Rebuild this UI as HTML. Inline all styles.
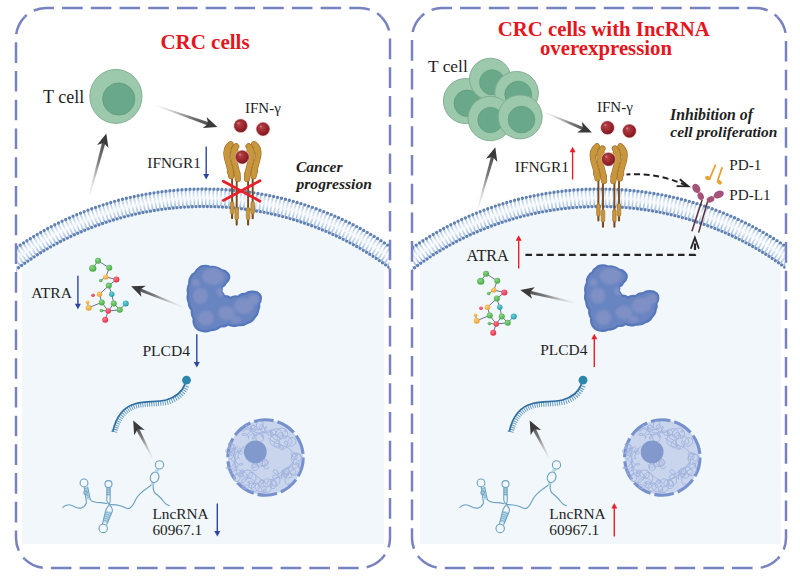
<!DOCTYPE html><html><head><meta charset="utf-8"><style>html,body{margin:0;padding:0;background:#fff;}svg{display:block;}text{font-family:"Liberation Serif",serif;}</style></head><body>
<svg width="800" height="578" viewBox="0 0 800 578">
<defs>
<radialGradient id="gBall" cx="0.38" cy="0.35" r="0.7"><stop offset="0" stop-color="#b8454b"/><stop offset="0.6" stop-color="#9a252c"/><stop offset="1" stop-color="#7c161c"/></radialGradient>
<radialGradient id="gAg" cx="0.4" cy="0.35" r="0.7"><stop offset="0" stop-color="#8fd68a"/><stop offset="1" stop-color="#3fa53c"/></radialGradient>
<radialGradient id="gAo" cx="0.4" cy="0.35" r="0.7"><stop offset="0" stop-color="#ffd27a"/><stop offset="1" stop-color="#e89a2a"/></radialGradient>
<radialGradient id="gAr" cx="0.4" cy="0.35" r="0.7"><stop offset="0" stop-color="#ff7a8a"/><stop offset="1" stop-color="#e0263e"/></radialGradient>
<radialGradient id="gAt" cx="0.4" cy="0.35" r="0.7"><stop offset="0" stop-color="#6fd0d8"/><stop offset="1" stop-color="#1f9aa6"/></radialGradient>
<clipPath id="cL"><rect x="16.5" y="0" width="373" height="560"/></clipPath>
<clipPath id="cR"><rect x="412.5" y="0" width="373" height="560"/></clipPath>
<clipPath id="fL"><rect x="22" y="0" width="362" height="544"/></clipPath>
<clipPath id="fR"><rect x="420" y="0" width="361" height="544"/></clipPath>
<filter id="blur1" x="-50%" y="-50%" width="200%" height="200%"><feGaussianBlur stdDeviation="1.0"/></filter>
</defs>
<rect width="800" height="578" fill="#fff"/>
<circle cx="204" cy="518" r="311.5" fill="#f1f7fb" clip-path="url(#fL)"/>
<g clip-path="url(#cL)" fill="none">
<radialGradient id="gMem204" gradientUnits="userSpaceOnUse" cx="204" cy="518" r="329"><stop offset="0.95" stop-color="#9ab8de"/><stop offset="0.97" stop-color="#dde9f6"/><stop offset="0.98" stop-color="#dde9f6"/><stop offset="1" stop-color="#9ab8de"/></radialGradient>
<circle cx="204" cy="518" r="324.4" stroke="url(#gMem204)" stroke-width="7.6" stroke-dasharray="1.78 2.18"/>
<circle cx="204" cy="518" r="316.1" stroke="url(#gMem204)" stroke-width="7.6" stroke-dasharray="1.74 2.12"/>
<circle cx="204" cy="518" r="320.25" stroke="#f3f7fc" stroke-width="1.2"/>
<circle cx="204" cy="518" r="329" stroke="#6181b1" stroke-width="3.35" stroke-linecap="round" stroke-dasharray="0 4.02"/>
<circle cx="204" cy="518" r="311.5" stroke="#6181b1" stroke-width="3.35" stroke-linecap="round" stroke-dasharray="0 3.81"/>
</g>
<circle cx="600" cy="518" r="311.5" fill="#f1f7fb" clip-path="url(#fR)"/>
<g clip-path="url(#cR)" fill="none">
<radialGradient id="gMem600" gradientUnits="userSpaceOnUse" cx="600" cy="518" r="329"><stop offset="0.95" stop-color="#9ab8de"/><stop offset="0.97" stop-color="#dde9f6"/><stop offset="0.98" stop-color="#dde9f6"/><stop offset="1" stop-color="#9ab8de"/></radialGradient>
<circle cx="600" cy="518" r="324.4" stroke="url(#gMem600)" stroke-width="7.6" stroke-dasharray="1.78 2.18"/>
<circle cx="600" cy="518" r="316.1" stroke="url(#gMem600)" stroke-width="7.6" stroke-dasharray="1.74 2.12"/>
<circle cx="600" cy="518" r="320.25" stroke="#f3f7fc" stroke-width="1.2"/>
<circle cx="600" cy="518" r="329" stroke="#6181b1" stroke-width="3.35" stroke-linecap="round" stroke-dasharray="0 4.02"/>
<circle cx="600" cy="518" r="311.5" stroke="#6181b1" stroke-width="3.35" stroke-linecap="round" stroke-dasharray="0 3.81"/>
</g>
<path d="M24.79,16.79 A30,30 0 0 1 46,8 L360,8 A30,30 0 0 1 381.21,16.79" fill="none" stroke="#7882bf" stroke-width="2.5" stroke-dasharray="20.6 8.12" stroke-dashoffset="-39.56"/>
<path d="M381.21,16.79 A30,30 0 0 1 390,38 L390,538 A30,30 0 0 1 381.21,559.21" fill="none" stroke="#7882bf" stroke-width="2.5" stroke-dasharray="20.6 8.12" stroke-dashoffset="-24.06"/>
<path d="M381.21,559.21 A30,30 0 0 1 360,568 L46,568 A30,30 0 0 1 24.79,559.21" fill="none" stroke="#7882bf" stroke-width="2.5" stroke-dasharray="20.6 8.12" stroke-dashoffset="-24.81"/>
<path d="M24.79,559.21 A30,30 0 0 1 16,538 L16,38 A30,30 0 0 1 24.79,16.79" fill="none" stroke="#7882bf" stroke-width="2.5" stroke-dasharray="20.6 8.12" stroke-dashoffset="-39.06"/>
<path d="M420.79,16.79 A30,30 0 0 1 442,8 L756,8 A30,30 0 0 1 777.21,16.79" fill="none" stroke="#7882bf" stroke-width="2.5" stroke-dasharray="20.6 8.12" stroke-dashoffset="-41.56"/>
<path d="M777.21,16.79 A30,30 0 0 1 786,38 L786,538 A30,30 0 0 1 777.21,559.21" fill="none" stroke="#7882bf" stroke-width="2.5" stroke-dasharray="20.6 8.12" stroke-dashoffset="-26.46"/>
<path d="M777.21,559.21 A30,30 0 0 1 756,568 L442,568 A30,30 0 0 1 420.79,559.21" fill="none" stroke="#7882bf" stroke-width="2.5" stroke-dasharray="20.6 8.12" stroke-dashoffset="-26.86"/>
<path d="M420.79,559.21 A30,30 0 0 1 412,538 L412,38 A30,30 0 0 1 420.79,16.79" fill="none" stroke="#7882bf" stroke-width="2.5" stroke-dasharray="20.6 8.12" stroke-dashoffset="-12.56"/>
<text x="205" y="48.9" font-size="21" font-weight="bold" font-style="normal" fill="#e4161e" text-anchor="middle">CRC cells</text>
<text x="43" y="102.5" font-size="18" font-weight="normal" font-style="normal" fill="#1e1e1e" text-anchor="start">T cell</text>
<ellipse cx="115.9" cy="96.4" rx="26.1" ry="27" fill="#9cc8ac" stroke="#7daa8e" stroke-width="0.9"/>
<circle cx="118.75" cy="99" r="16.1" fill="#6aa88a" stroke="#5f9d7f" stroke-width="0.8"/>
<linearGradient id="ga1" gradientUnits="userSpaceOnUse" x1="89.4" y1="195.5" x2="106.3" y2="133.4"><stop offset="0" stop-color="#c8c8c8" stop-opacity="0.15"/><stop offset="0.55" stop-color="#7a7a7a"/><stop offset="1" stop-color="#3c3c3c"/></linearGradient>
<polygon fill="url(#ga1)" points="90.03,195.67 105.81,141.66 102.53,140.77 88.77,195.33"/>
<polygon fill="#3a3a3a" points="106.3,133.4 108.45,147.98 103.75,142.78 97.06,144.88"/>
<linearGradient id="ga2" gradientUnits="userSpaceOnUse" x1="156.1" y1="105.5" x2="217.4" y2="127"><stop offset="0" stop-color="#c8c8c8" stop-opacity="0.15"/><stop offset="0.55" stop-color="#7a7a7a"/><stop offset="1" stop-color="#3c3c3c"/></linearGradient>
<polygon fill="url(#ga2)" points="155.88,106.11 209.19,125.92 210.32,122.71 156.32,104.89"/>
<polygon fill="#3a3a3a" points="217.4,127 202.71,128.1 208.23,123.78 206.61,116.96"/>
<text x="245" y="112.6" font-size="15" font-weight="normal" font-style="normal" fill="#1e1e1e" text-anchor="start">IFN-γ</text>
<circle cx="240.7" cy="125.8" r="7.5" fill="#e9c4c6" opacity="0.5"/>
<circle cx="240.7" cy="125.8" r="6.3" fill="url(#gBall)" stroke="#7a1a20" stroke-width="0.6"/>
<circle cx="238.5" cy="123.2" r="1.1" fill="#d98a8e" opacity="0.8"/>
<circle cx="263" cy="129.1" r="7.5" fill="#e9c4c6" opacity="0.5"/>
<circle cx="263" cy="129.1" r="6.3" fill="url(#gBall)" stroke="#7a1a20" stroke-width="0.6"/>
<circle cx="260.8" cy="126.5" r="1.1" fill="#d98a8e" opacity="0.8"/>
<g transform="translate(0,0)">
<g>
<line x1="232.1" y1="174" x2="232.1" y2="214" stroke="#7a4a1e" stroke-width="1.9"/>
<line x1="236.7" y1="176" x2="236.7" y2="220" stroke="#7a4a1e" stroke-width="1.9"/>
<line x1="232.1" y1="212" x2="232.1" y2="218.2" stroke="#7a4a1e" stroke-width="2.1" stroke-linecap="round"/>
<line x1="236.7" y1="218" x2="236.7" y2="224.6" stroke="#7a4a1e" stroke-width="2.1" stroke-linecap="round"/>
<rect x="230.3" y="201.4" width="3.6" height="12.8" rx="1.8" fill="#c8953a" stroke="#9b6c28" stroke-width="0.6"/>
<rect x="234.9" y="207.3" width="3.6" height="12.6" rx="1.8" fill="#c8953a" stroke="#9b6c28" stroke-width="0.6"/>
<path d="M230.6,144.2 C226.8,147.2 225.8,152 226.8,157 C228,163 230.8,168.5 231.2,176.2" fill="none" stroke="#9b6c28" stroke-width="6.2" stroke-linecap="round"/>
<circle cx="228.3" cy="149.8" r="4" fill="#9b6c28"/>
<circle cx="230.3" cy="171.5" r="3.5" fill="#9b6c28"/>
<path d="M230.6,144.2 C226.8,147.2 225.8,152 226.8,157 C228,163 230.8,168.5 231.2,176.2" fill="none" stroke="#c8963c" stroke-width="5" stroke-linecap="round"/>
<circle cx="228.3" cy="149.8" r="3.4" fill="#c8963c"/>
<circle cx="230.3" cy="171.5" r="2.9" fill="#c8963c"/>
<path d="M236.2,146.4 C233.4,149.4 232.8,154 233.5,158.5 C234.7,164.5 237.4,171 237.8,178.8" fill="none" stroke="#9b6c28" stroke-width="6.2" stroke-linecap="round"/>
<circle cx="234.6" cy="151.2" r="3.8" fill="#9b6c28"/>
<circle cx="237.2" cy="174" r="3.4" fill="#9b6c28"/>
<path d="M236.2,146.4 C233.4,149.4 232.8,154 233.5,158.5 C234.7,164.5 237.4,171 237.8,178.8" fill="none" stroke="#c8963c" stroke-width="5" stroke-linecap="round"/>
<circle cx="234.6" cy="151.2" r="3.2" fill="#c8963c"/>
<circle cx="237.2" cy="174" r="2.8" fill="#c8963c"/>
</g>
<g transform="translate(484.8,0) scale(-1,1)">
<line x1="232.1" y1="174" x2="232.1" y2="214" stroke="#7a4a1e" stroke-width="1.9"/>
<line x1="236.7" y1="176" x2="236.7" y2="220" stroke="#7a4a1e" stroke-width="1.9"/>
<line x1="232.1" y1="212" x2="232.1" y2="218.2" stroke="#7a4a1e" stroke-width="2.1" stroke-linecap="round"/>
<line x1="236.7" y1="218" x2="236.7" y2="224.6" stroke="#7a4a1e" stroke-width="2.1" stroke-linecap="round"/>
<rect x="230.3" y="201.4" width="3.6" height="12.8" rx="1.8" fill="#c8953a" stroke="#9b6c28" stroke-width="0.6"/>
<rect x="234.9" y="207.3" width="3.6" height="12.6" rx="1.8" fill="#c8953a" stroke="#9b6c28" stroke-width="0.6"/>
<path d="M230.6,144.2 C226.8,147.2 225.8,152 226.8,157 C228,163 230.8,168.5 231.2,176.2" fill="none" stroke="#9b6c28" stroke-width="6.2" stroke-linecap="round"/>
<circle cx="228.3" cy="149.8" r="4" fill="#9b6c28"/>
<circle cx="230.3" cy="171.5" r="3.5" fill="#9b6c28"/>
<path d="M230.6,144.2 C226.8,147.2 225.8,152 226.8,157 C228,163 230.8,168.5 231.2,176.2" fill="none" stroke="#c8963c" stroke-width="5" stroke-linecap="round"/>
<circle cx="228.3" cy="149.8" r="3.4" fill="#c8963c"/>
<circle cx="230.3" cy="171.5" r="2.9" fill="#c8963c"/>
<path d="M236.2,146.4 C233.4,149.4 232.8,154 233.5,158.5 C234.7,164.5 237.4,171 237.8,178.8" fill="none" stroke="#9b6c28" stroke-width="6.2" stroke-linecap="round"/>
<circle cx="234.6" cy="151.2" r="3.8" fill="#9b6c28"/>
<circle cx="237.2" cy="174" r="3.4" fill="#9b6c28"/>
<path d="M236.2,146.4 C233.4,149.4 232.8,154 233.5,158.5 C234.7,164.5 237.4,171 237.8,178.8" fill="none" stroke="#c8963c" stroke-width="5" stroke-linecap="round"/>
<circle cx="234.6" cy="151.2" r="3.2" fill="#c8963c"/>
<circle cx="237.2" cy="174" r="2.8" fill="#c8963c"/>
</g>
</g>
<circle cx="242.2" cy="157.1" r="7.5" fill="#e9c4c6" opacity="0.5"/>
<circle cx="242.2" cy="157.1" r="6.3" fill="url(#gBall)" stroke="#7a1a20" stroke-width="0.6"/>
<circle cx="240" cy="154.5" r="1.1" fill="#d98a8e" opacity="0.8"/>
<path d="M223.3,181.2 L260,201.2 M223.3,200.4 L260,180.8" stroke="#e8202a" stroke-width="2.8" stroke-linecap="round"/>
<text x="147.3" y="167.8" font-size="15.3" font-weight="normal" font-style="normal" fill="#1e1e1e" text-anchor="start">IFNGR1</text>
<line x1="206.2" y1="146.5" x2="206.2" y2="174.5" stroke="#2d45a0" stroke-width="1.4"/>
<polygon fill="#2d45a0" points="206.2,179.5 203.2,174 209.2,174"/>
<text x="296" y="171.6" font-size="15.5" font-weight="bold" font-style="italic" fill="#1e1e1e" text-anchor="start">Cancer</text>
<text x="296.5" y="188.8" font-size="15.6" font-weight="bold" font-style="italic" fill="#1e1e1e" text-anchor="start">progression</text>
<text x="31.3" y="297.8" font-size="15.6" font-weight="normal" font-style="normal" fill="#1e1e1e" text-anchor="start">ATRA</text>
<line x1="77.9" y1="275.8" x2="77.9" y2="304.2" stroke="#2d45a0" stroke-width="1.4"/>
<polygon fill="#2d45a0" points="77.9,309.2 74.9,303.7 80.9,303.7"/>
<g transform="translate(0,0)">
<line x1="98" y1="260.75" x2="92.75" y2="268.25" stroke="#6b7296" stroke-width="1"/>
<line x1="98" y1="260.75" x2="109.25" y2="267.8" stroke="#6b7296" stroke-width="1"/>
<line x1="109.25" y1="267.8" x2="105.8" y2="277" stroke="#6b7296" stroke-width="1"/>
<line x1="105.8" y1="277" x2="116.4" y2="279.5" stroke="#6b7296" stroke-width="1"/>
<line x1="105.8" y1="277" x2="100.7" y2="280.5" stroke="#6b7296" stroke-width="1"/>
<line x1="116.4" y1="279.5" x2="108.8" y2="285.5" stroke="#6b7296" stroke-width="1"/>
<line x1="108.8" y1="285.5" x2="99.5" y2="294.2" stroke="#6b7296" stroke-width="1"/>
<line x1="108.8" y1="285.5" x2="111.8" y2="294.2" stroke="#6b7296" stroke-width="1"/>
<line x1="99.5" y1="294.2" x2="101.75" y2="302.4" stroke="#6b7296" stroke-width="1"/>
<line x1="111.8" y1="294.2" x2="113.75" y2="303.5" stroke="#6b7296" stroke-width="1"/>
<line x1="101.75" y1="302.4" x2="88.7" y2="307.7" stroke="#6b7296" stroke-width="1"/>
<line x1="87.5" y1="302.3" x2="88.7" y2="307.7" stroke="#6b7296" stroke-width="1"/>
<line x1="101.75" y1="302.4" x2="108.2" y2="311" stroke="#6b7296" stroke-width="1"/>
<line x1="113.75" y1="303.5" x2="108.2" y2="311" stroke="#6b7296" stroke-width="1"/>
<line x1="108.2" y1="311" x2="119.75" y2="309.8" stroke="#6b7296" stroke-width="1"/>
<line x1="113.75" y1="303.5" x2="119.75" y2="309.8" stroke="#6b7296" stroke-width="1"/>
<line x1="119.75" y1="309.8" x2="125.75" y2="303.5" stroke="#6b7296" stroke-width="1"/>
<line x1="101.4" y1="310.5" x2="108.2" y2="311" stroke="#6b7296" stroke-width="1"/>
<line x1="108.2" y1="311" x2="105.2" y2="319.7" stroke="#6b7296" stroke-width="1"/>
<circle cx="98" cy="260.75" r="3" fill="url(#gAg)"/>
<circle cx="92.75" cy="268.25" r="3.6" fill="url(#gAg)"/>
<circle cx="109.25" cy="267.8" r="3" fill="url(#gAg)"/>
<circle cx="105.8" cy="277" r="2.6" fill="url(#gAo)"/>
<circle cx="100.7" cy="280.5" r="1.8" fill="url(#gAg)"/>
<circle cx="116.4" cy="279.5" r="3" fill="url(#gAr)"/>
<circle cx="108.8" cy="285.5" r="3" fill="url(#gAg)"/>
<circle cx="99.5" cy="294.2" r="2.7" fill="url(#gAo)"/>
<circle cx="93" cy="295.25" r="1.8" fill="url(#gAr)"/>
<circle cx="111.8" cy="294.2" r="2.7" fill="url(#gAt)"/>
<circle cx="101.75" cy="302.4" r="3" fill="url(#gAg)"/>
<circle cx="113.75" cy="303.5" r="3" fill="url(#gAg)"/>
<circle cx="125.75" cy="303.5" r="3" fill="url(#gAt)"/>
<circle cx="87.5" cy="302.3" r="1.8" fill="url(#gAo)"/>
<circle cx="88.7" cy="307.7" r="3" fill="url(#gAo)"/>
<circle cx="101.4" cy="310.5" r="1.8" fill="url(#gAg)"/>
<circle cx="108.2" cy="311" r="2.7" fill="url(#gAr)"/>
<circle cx="119.75" cy="309.8" r="3" fill="url(#gAg)"/>
<circle cx="105.2" cy="319.7" r="3" fill="url(#gAr)"/>
</g>
<linearGradient id="ga3" gradientUnits="userSpaceOnUse" x1="181.9" y1="306.6" x2="131.1" y2="286.2"><stop offset="0" stop-color="#c8c8c8" stop-opacity="0.15"/><stop offset="0.55" stop-color="#7a7a7a"/><stop offset="1" stop-color="#3c3c3c"/></linearGradient>
<polygon fill="url(#ga3)" points="182.14,306 139.25,287.64 137.98,290.8 181.66,307.2"/>
<polygon fill="#3a3a3a" points="131.1,286.2 145.83,285.76 140.12,289.82 141.43,296.71"/>
<g transform="translate(0,0)">
<path d="M201.4,266.4 A11.6,11.6 0 0 1 210.3,267 A15.27,15.27 0 0 1 221.6,270.2 A9.19,9.19 0 0 1 227.9,273.4 A5.96,5.96 0 0 1 229.2,277.8 A7.72,7.72 0 0 1 226,282.8 A8.18,8.18 0 0 1 221.6,287.3 A5.77,5.77 0 0 1 221,291.7 A7,7 0 0 1 224.1,296.1 A8.68,8.68 0 0 1 230.5,298 A9.9,9.9 0 0 1 238,296.7 A10.67,10.67 0 0 1 245.6,293.6 A10.18,10.18 0 0 1 253.2,291.7 A8.81,8.81 0 0 1 259.5,294.2 A5.96,5.96 0 0 1 260.8,298.6 A7.08,7.08 0 0 1 258.9,303.7 A8.24,8.24 0 0 1 258.2,310 A11.05,11.05 0 0 1 254.4,317.6 A10.46,10.46 0 0 1 248.1,322.6 A13.53,13.53 0 0 1 238,325.1 A13.15,13.15 0 0 1 227.9,324.5 A10.06,10.06 0 0 1 220.4,326.4 A14.03,14.03 0 0 1 210.3,330.2 A11.6,11.6 0 0 1 201.4,330.8 A9.99,9.99 0 0 1 195.1,326.4 A10.02,10.02 0 0 1 193.8,318.8 A11.7,11.7 0 0 1 191.9,310 A10.67,10.67 0 0 1 188.8,302.4 A11.47,11.47 0 0 1 188.2,293.6 A13.22,13.22 0 0 1 189.4,283.5 A8.36,8.36 0 0 1 190.7,277.2 A8.18,8.18 0 0 1 195.1,272.7 A7.56,7.56 0 0 1 198.9,268.3 A4.08,4.08 0 0 1 201.4,266.4Z" fill="#6884c1" stroke="#5677bb" stroke-width="2.2" stroke-linejoin="round"/>
<clipPath id="pc0"><path d="M201.4,266.4 A11.6,11.6 0 0 1 210.3,267 A15.27,15.27 0 0 1 221.6,270.2 A9.19,9.19 0 0 1 227.9,273.4 A5.96,5.96 0 0 1 229.2,277.8 A7.72,7.72 0 0 1 226,282.8 A8.18,8.18 0 0 1 221.6,287.3 A5.77,5.77 0 0 1 221,291.7 A7,7 0 0 1 224.1,296.1 A8.68,8.68 0 0 1 230.5,298 A9.9,9.9 0 0 1 238,296.7 A10.67,10.67 0 0 1 245.6,293.6 A10.18,10.18 0 0 1 253.2,291.7 A8.81,8.81 0 0 1 259.5,294.2 A5.96,5.96 0 0 1 260.8,298.6 A7.08,7.08 0 0 1 258.9,303.7 A8.24,8.24 0 0 1 258.2,310 A11.05,11.05 0 0 1 254.4,317.6 A10.46,10.46 0 0 1 248.1,322.6 A13.53,13.53 0 0 1 238,325.1 A13.15,13.15 0 0 1 227.9,324.5 A10.06,10.06 0 0 1 220.4,326.4 A14.03,14.03 0 0 1 210.3,330.2 A11.6,11.6 0 0 1 201.4,330.8 A9.99,9.99 0 0 1 195.1,326.4 A10.02,10.02 0 0 1 193.8,318.8 A11.7,11.7 0 0 1 191.9,310 A10.67,10.67 0 0 1 188.8,302.4 A11.47,11.47 0 0 1 188.2,293.6 A13.22,13.22 0 0 1 189.4,283.5 A8.36,8.36 0 0 1 190.7,277.2 A8.18,8.18 0 0 1 195.1,272.7 A7.56,7.56 0 0 1 198.9,268.3 A4.08,4.08 0 0 1 201.4,266.4Z"/></clipPath>
<g clip-path="url(#pc0)"><g fill="#7e90c5" filter="url(#blur1)">
<ellipse cx="213" cy="276.5" rx="11" ry="8.5"/>
<ellipse cx="200.5" cy="296" rx="7.5" ry="8"/>
<ellipse cx="196" cy="283" rx="4" ry="4"/>
<ellipse cx="206" cy="318" rx="8" ry="7.5"/>
<ellipse cx="244" cy="306" rx="10" ry="8"/>
<ellipse cx="254" cy="299.5" rx="5.5" ry="5"/>
<ellipse cx="226.5" cy="313" rx="8.5" ry="7"/>
<ellipse cx="221" cy="292" rx="4.5" ry="4.5"/>
<ellipse cx="236" cy="320" rx="5" ry="3.5"/>
</g>
</g></g>
<text x="142.4" y="355.6" font-size="15.6" font-weight="normal" font-style="normal" fill="#1e1e1e" text-anchor="start">PLCD4</text>
<line x1="196.8" y1="334.3" x2="196.8" y2="362.6" stroke="#2d45a0" stroke-width="1.4"/>
<polygon fill="#2d45a0" points="196.8,367.6 193.8,362.1 199.8,362.1"/>
<g transform="translate(0,0)">
<path d="M185,384.1 C182,392 175,397.5 166,400 C156,402.2 146,401 136,403.5 C124,406.5 116,417 112.8,431.5" fill="none" stroke="#5a92bd" stroke-width="6.5" stroke-dasharray="0.9 1.35" transform="translate(0.9,1.6)"/>
<path d="M185,384.1 C182,392 175,397.5 166,400 C156,402.2 146,401 136,403.5 C124,406.5 116,417 112.8,431.5" fill="none" stroke="#f1f7fb" stroke-width="2.6" transform="translate(-0.6,-1.2)"/>
<path d="M185,384.1 C182,392 175,397.5 166,400 C156,402.2 146,401 136,403.5 C124,406.5 116,417 112.8,431.5" fill="none" stroke="#2f6f9f" stroke-width="1.7"/>
<circle cx="186.5" cy="380.2" r="4.4" fill="#2d86ac"/>
</g>
<linearGradient id="ga4" gradientUnits="userSpaceOnUse" x1="152.6" y1="458.1" x2="133.2" y2="420.6"><stop offset="0" stop-color="#c8c8c8" stop-opacity="0.15"/><stop offset="0.55" stop-color="#7a7a7a"/><stop offset="1" stop-color="#3c3c3c"/></linearGradient>
<polygon fill="url(#ga4)" points="153.18,457.8 138.43,427.01 135.41,428.58 152.02,458.4"/>
<polygon fill="#3a3a3a" points="133.2,420.6 144.64,429.88 137.67,429.23 134.16,435.3"/>
<g transform="translate(0,0)" fill="none" stroke="#6ea1c1" stroke-width="1.1">
<path d="M84.6,487 L87,486.6 L89.6,499.4 L87.2,499.9 Z" fill="#b9dbe8" stroke="none"/>
<path d="M107,487.4 L110,487.4 L110,496 L107,496 Z" fill="#b9dbe8" stroke="none"/>
<path d="M105.8,510.5 L111.8,512 L107.4,523 L103.2,522.3 Z" fill="#b9dbe8" stroke="none"/>
<path d="M156,468.4 L159.4,469.6 L158.2,472 L154.8,470.9 Z" fill="#b9dbe8" stroke="none"/>
<path d="M151.6,481.8 L155,483 L153.8,485.4 L150.4,484.4 Z" fill="#b9dbe8" stroke="none"/>
<path d="M84.9,488.6 L87.2,488.2 M85.3,490.4 L87.6,490 M86.4,495.6 L88.7,495.1 M86.8,497.4 L89.1,496.9 M107,489 L110,489 M107,490.8 L110,490.8 M107,492.6 L110,492.6 M105.4,512 L111.2,513.6 M104.9,514 L110.5,515.6 M104.4,516 L109.8,517.6 M103.9,518 L109.1,519.6 M103.4,520 L108.4,521.6 M107,494.4 L110,494.4" stroke="#6b9ebf" stroke-width="0.7"/>
<path d="M62.5,507.7 C66,504 70,504 74,506.5 C79,509.5 84,508.5 86.5,503 L84.2,487"/>
<path d="M87.6,486.6 L90.3,499.5 C92,502.5 96,502.6 100.7,502.6 C104,502.8 106,503.2 107.5,503.7"/>
<circle cx="84" cy="482.9" r="3.9"/>
<circle cx="85.6" cy="492.8" r="1.8"/>
<path d="M106.8,487.4 L106.8,500 C107,502 108,503 109.2,504.6 C110,503 110.3,502 110.2,500 L110.2,487.4"/>
<circle cx="108.5" cy="484.1" r="3.5"/>
<path d="M109.2,504.6 C113,504.5 118,505 121,506 C124,507 126,508.5 128,508.6 C132,508.5 134,503 136,499 C139,493 145,489.5 151.5,485"/>
<path d="M109.6,505.2 C112,507 113,509 112,512 L106.6,524.8 M108.8,505.4 C107,507.5 106,509 105.5,511.5 L102.4,524.2"/>
<circle cx="103.2" cy="528.4" r="4.2"/>
<ellipse cx="154.6" cy="477.3" rx="4.2" ry="5.4" transform="rotate(20 154.6 477.3)"/>
<circle cx="159.5" cy="464.9" r="4.1"/>
<path d="M153.2,484.5 C153,488 153,491 155,493 C158,495.5 161,497.5 163.6,501.5 C165.5,504 167.5,505.5 169.8,505.7"/>
</g>
<circle cx="265.5" cy="457.5" r="37.7" fill="#c9d5ed" stroke="#7791cc" stroke-width="3.1" stroke-dasharray="19.69 4" stroke-dashoffset="0"/>
<g transform="translate(0,0)" fill="none" stroke="#a2b2dc" stroke-width="0.9">
<path d="M273.49,434.15 L273.34,434.98 L272.51,435.64 L271.13,435.88 L269.4,435.54 L267.62,434.57 L266.09,433.04 L265.04,431.19 L264.58,429.29 L264.7,427.68 L265.23,426.63 L265.91,426.33 L266.42,426.79 L266.44,427.9 L265.77,429.4 L264.33,430.95 L262.2,432.19 L259.62,432.85 L256.92,432.77 L254.46,431.95 L252.58,430.54 L251.49,428.84 L251.26,427.18 L251.78,425.89 L252.84,425.21 L254.11,425.26 L255.25,425.99 L256,427.23 L256.17,428.71 L255.75,430.1 L254.82,431.13 L253.59,431.59 L252.34,431.43 L251.31,430.69 L250.71,429.52 L250.63,428.18 L251.07,426.91 L251.89,425.92 L252.92,425.37 L253.93,425.31 L254.68,425.68 L255.03,426.37 L254.88,427.2 L254.23,427.98 L253.16,428.55 L251.8,428.79 L250.33,428.66 L248.92,428.18 L247.73,427.45 L246.86,426.6 L246.35,425.79 L246.18,425.16 L246.28,424.86 L246.51,424.96 L246.74,425.46 L246.82,426.32 L246.66,427.43 L246.2,428.62 L245.45,429.71 L244.51,430.54 L243.53,431 L242.71,431.03 L242.26,430.68 L242.33,430.08 L243.02,429.42 L244.32,428.94 L246.12,428.84 L248.21,429.28 L250.32,430.32 L252.16,431.87 L253.52,433.76 L254.26,435.71 L254.38,437.44 L254.01,438.66 L253.38,439.2 L252.8,439.01 L252.57,438.19 L252.9,436.96 L253.9,435.66 L255.51,434.6 L257.53,434.07 L259.66,434.25 L261.54,435.14 L262.86,436.59 L263.4,438.35 L263.1,440.06 L262.04,441.37 L260.46,442.03 L258.71,441.89 L257.15,440.98 L256.08,439.48 L255.71,437.67 L256.1,435.88 L257.15,434.43 L258.65,433.56 L260.29,433.35 L261.79,433.77 L262.9,434.64 L263.49,435.72 L263.55,436.71 L263.2,437.39 L262.62,437.57 L262.08,437.2 L261.8,436.34 L261.95,435.14 L262.62,433.8 L263.79,432.56 L265.36,431.6 L267.15,431.04 L268.96,430.94 L270.57,431.26 L271.83,431.88 L272.65,432.65 L272.98,433.39 L272.89,433.96 L272.46,434.23 L271.85,434.14 L271.2,433.69 L270.66,432.95 L270.31,432.04 L270.22,431.1 L270.37,430.3 L270.67,429.76 L271.01,429.59 L271.22,429.8 L271.14,430.35 L270.65,431.12 L269.68,431.93 L268.24,432.59 L266.46,432.9 L264.5,432.73 L262.61,432.02 L261.03,430.84 L259.96,429.32 L259.53,427.71 L259.74,426.27 L260.46,425.25 L261.49,424.81 L262.54,425.02 L263.31,425.8 L263.57,426.95 L263.21,428.17 L262.23,429.16 L260.81,429.64 L259.21,429.44 L257.75,428.53 L256.73,427.03 L256.39,425.21 L256.78,423.41 L257.85,421.96 L259.35,421.17 L260.97,421.18 L262.33,421.99 L263.11,423.45 L263.1,425.28 L262.23,427.12 L260.61,428.65 L258.45,429.6 L256.1,429.87 L253.88,429.49 L252.09,428.62 L250.89,427.54 L250.34,426.55 L250.32,425.95 L250.63,425.91 L251.02,426.51 L251.22,427.7 L251.03,429.3 L250.36,431.07 L249.21,432.76 L247.7,434.13 L246.04,435.05 L244.45,435.45 L243.14,435.38 L242.3,434.96 L242.01,434.38 L242.27,433.83 L243,433.46 L244.06,433.41 L245.28,433.71 L246.47,434.34 L247.49,435.22 L248.23,436.21 L248.65,437.15 L248.77,437.9 L248.68,438.33 L248.49,438.37 L248.35,438.02 L248.4,437.33 L248.74,436.41 L249.42,435.44 L250.43,434.59 L251.67,434.01 L252.99,433.84 L254.19,434.12 L255.09,434.8 L255.52,435.76"/>
<path d="M280.31,444.46 L280.26,445.83 L279.61,447.01 L278.49,447.76 L277.1,447.9 L275.74,447.37 L274.69,446.26 L274.18,444.76 L274.31,443.17 L275.07,441.81 L276.27,440.94 L277.64,440.75 L278.86,441.27 L279.6,442.35 L279.64,443.76 L278.9,445.13 L277.46,446.14 L275.55,446.49 L273.49,446.04 L271.66,444.79 L270.37,442.91 L269.84,440.68 L270.15,438.45 L271.19,436.55 L272.75,435.24 L274.49,434.64 L276.11,434.72 L277.32,435.3 L277.97,436.13 L278.02,436.89 L277.58,437.31 L276.87,437.21 L276.16,436.5 L275.7,435.27 L275.7,433.67 L276.27,431.94 L277.38,430.35 L278.94,429.1 L280.73,428.35 L282.53,428.15 L284.12,428.46 L285.33,429.14 L286.06,430.02 L286.31,430.91 L286.14,431.64 L285.69,432.09 L285.12,432.21 L284.59,432.02 L284.24,431.61 L284.18,431.09 L284.43,430.63 L284.96,430.37 L285.69,430.43 L286.49,430.87 L287.2,431.71 L287.7,432.88 L287.85,434.27 L287.63,435.71 L287.03,437.01 L286.15,438.01 L285.16,438.59 L284.25,438.7 L283.62,438.38 L283.46,437.75 L283.85,437.03 L284.81,436.43 L286.22,436.17 L287.88,436.41 L289.54,437.21 L290.92,438.49 L291.8,440.09 L292.06,441.74 L291.69,443.14 L290.85,444.04 L289.76,444.25 L288.74,443.75 L288.09,442.64 L288.01,441.15 L288.62,439.6 L289.85,438.34 L291.51,437.66 L293.28,437.73 L294.82,438.57 L295.78,440.04 L295.96,441.86 L295.27,443.69 L293.81,445.2 L291.81,446.1 L289.59,446.28 L287.52,445.74 L285.9,444.66 L284.93,443.32 L284.67,442.05 L285.02,441.16 L285.75,440.87 L286.58,441.27 L287.22,442.32 L287.43,443.83 L287.08,445.54 L286.16,447.16 L284.8,448.44 L283.21,449.21 L281.64,449.39 L280.33,449.04 L279.46,448.31 L279.13,447.38 L279.35,446.49 L279.99,445.81 L280.91,445.48 L281.9,445.52 L282.76,445.91 L283.34,446.54 L283.55,447.23 L283.36,447.84 L282.81,448.2 L282.02,448.19 L281.12,447.77 L280.26,446.94 L279.57,445.76 L279.15,444.37 L279.05,442.92 L279.24,441.58 L279.64,440.48 L280.11,439.74 L280.49,439.38 L280.6,439.36 L280.32,439.58 L279.57,439.87 L278.36,440.02 L276.79,439.87 L275.05,439.27 L273.37,438.18 L271.98,436.67 L271.1,434.88 L270.83,433.04 L271.2,431.44 L272.08,430.31 L273.26,429.82 L274.45,430.03 L275.38,430.86 L275.81,432.11 L275.64,433.48 L274.89,434.65 L273.72,435.34 L272.41,435.38 L271.29,434.73 L270.67,433.5 L270.78,431.95 L271.69,430.42 L273.33,429.24 L275.48,428.69 L277.81,428.92 L279.94,429.93 L281.56,431.54 L282.44,433.49 L282.52,435.4 L281.88,436.95 L280.75,437.89 L279.45,438.09 L278.3,437.58 L277.59,436.54 L277.48,435.23 L277.99,433.98 L279.02,433.06 L280.35,432.68 L281.72,432.9 L282.84,433.68 L283.53,434.85 L283.67,436.18 L283.27,437.42 L282.45,438.35 L281.39,438.84 L280.34,438.82 L279.51,438.36 L279.07,437.58 L279.12,436.68 L279.66,435.86 L280.62,435.27 L281.85,435.06 L283.21,435.26 L284.5,435.85 L285.6,436.76 L286.4,437.85"/>
<path d="M238.24,446.13 L237.6,447.08 L236.37,447.93 L234.67,448.44 L232.75,448.44 L230.89,447.87 L229.4,446.8 L228.5,445.45 L228.33,444.1 L228.86,443.06 L229.92,442.6 L231.23,442.9 L232.46,443.98 L233.3,445.7 L233.5,447.79 L232.99,449.91 L231.83,451.71 L230.23,452.9 L228.51,453.31 L227.02,452.95 L226.08,451.98 L225.88,450.67 L226.47,449.36 L227.76,448.39 L229.49,448 L231.35,448.3 L233,449.26 L234.16,450.71 L234.65,452.37 L234.46,453.94 L233.68,455.13 L232.54,455.77 L231.31,455.79 L230.26,455.23 L229.61,454.28 L229.46,453.17 L229.82,452.16 L230.58,451.47 L231.58,451.26 L232.59,451.57 L233.41,452.37 L233.88,453.53 L233.92,454.87 L233.55,456.21 L232.83,457.38 L231.92,458.27 L230.97,458.83 L230.17,459.07 L229.66,459.09 L229.53,459.01 L229.81,458.98 L230.48,459.16 L231.42,459.65 L232.52,460.52 L233.6,461.79 L234.52,463.39 L235.14,465.19 L235.4,467.03 L235.3,468.72 L234.92,470.08 L234.41,470.99 L233.94,471.4 L233.72,471.34 L233.9,470.94 L234.57,470.39 L235.73,469.91 L237.27,469.72 L238.98,469.96 L240.6,470.69 L241.86,471.84 L242.56,473.23 L242.56,474.58 L241.89,475.62 L240.69,476.07 L239.22,475.76 L237.8,474.65 L236.73,472.85 L236.26,470.6 L236.5,468.22 L237.41,466.06 L238.8,464.41 L240.36,463.46 L241.77,463.22 L242.69,463.56 L242.92,464.22 L242.38,464.86 L241.16,465.14 L239.5,464.82 L237.72,463.76 L236.17,461.99 L235.16,459.69 L234.86,457.16 L235.33,454.72 L236.45,452.7 L237.99,451.33 L239.63,450.7 L241.08,450.78 L242.08,451.38 L242.48,452.26 L242.27,453.12 L241.56,453.72 L240.54,453.88 L239.45,453.54 L238.53,452.75 L237.96,451.65 L237.83,450.45 L238.14,449.36 L238.79,448.56 L239.62,448.18 L240.43,448.25 L241.05,448.72 L241.32,449.5 L241.17,450.4 L240.58,451.27 L239.62,451.93 L238.41,452.27 L237.09,452.22 L235.84,451.79 L234.8,451.05 L234.08,450.1 L233.73,449.12 L233.75,448.25 L234.05,447.63 L234.5,447.37 L234.93,447.49 L235.18,447.96 L235.12,448.67 L234.65,449.43 L233.79,450.06 L232.63,450.38 L231.33,450.25 L230.11,449.64 L229.21,448.59 L228.8,447.28 L229.01,445.93 L229.8,444.82 L231.07,444.19 L232.57,444.22 L234.01,444.97 L235.11,446.36 L235.62,448.18 L235.43,450.16 L234.56,451.96 L233.16,453.32 L231.53,454.05 L229.99,454.11 L228.87,453.63 L228.38,452.86 L228.63,452.13 L229.56,451.78 L230.95,452.08 L232.48,453.17 L233.81,455.06 L234.63,457.56 L234.73,460.39 L234.06,463.19 L232.72,465.62 L230.96,467.41 L229.1,468.44 L227.47,468.73 L226.37,468.46 L225.96,467.87 L226.26,467.28 L227.19,466.97 L228.5,467.12 L229.93,467.81 L231.21,468.98 L232.11,470.46 L232.52,472.02 L232.44,473.39 L231.96,474.36 L231.26,474.78 L230.57,474.62 L230.08,473.91 L229.95,472.79 L230.27,471.46 L231.03,470.11 L232.13,468.92 L233.45,468.02 L234.81,467.45 L236.03,467.22 L236.96,467.23 L237.52,467.36 L237.67,467.47 L237.44,467.41 L236.94,467.07 L236.3,466.38 L235.68,465.34 L235.23,464 L235.07,462.5 L235.27,460.98 L235.83,459.64 L236.67,458.63 L237.64,458.07 L238.56,458.01 L239.25,458.39 L239.53,459.09"/>
<path d="M249.45,474.67 L249.19,475.88 L248.37,476.9 L247.11,477.48 L245.66,477.46 L244.31,476.78 L243.36,475.54 L243.03,473.95 L243.45,472.3 L244.58,470.92 L246.26,470.09 L248.19,469.99 L250.05,470.66 L251.49,471.98 L252.29,473.69 L252.34,475.45 L251.7,476.92 L250.58,477.82 L249.29,478.01 L248.18,477.47 L247.55,476.39 L247.59,475.04 L248.36,473.76 L249.75,472.88 L251.51,472.66 L253.33,473.19 L254.86,474.45 L255.83,476.25 L256.08,478.32 L255.59,480.33 L254.46,482.01 L252.93,483.15 L251.27,483.68 L249.76,483.63 L248.63,483.18 L247.99,482.54 L247.85,481.97 L248.13,481.67 L248.64,481.79 L249.18,482.36 L249.55,483.33 L249.59,484.58 L249.24,485.92 L248.49,487.15 L247.43,488.11 L246.19,488.67 L244.95,488.79 L243.87,488.48 L243.1,487.85 L242.72,487.01 L242.75,486.12 L243.17,485.35 L243.86,484.81 L244.69,484.58 L245.49,484.69 L246.09,485.07 L246.37,485.63 L246.25,486.2 L245.74,486.61 L244.9,486.71 L243.89,486.39 L242.88,485.6 L242.08,484.39 L241.63,482.91 L241.65,481.35 L242.13,479.96 L242.95,478.96 L243.93,478.5 L244.81,478.64 L245.34,479.32 L245.3,480.37 L244.58,481.52 L243.22,482.48 L241.36,482.98 L239.26,482.84 L237.26,482.03 L235.68,480.64 L234.74,478.9 L234.58,477.13 L235.16,475.67 L236.28,474.79 L237.66,474.67 L238.94,475.31 L239.81,476.56 L240.05,478.16 L239.58,479.75 L238.49,480.98 L237,481.58 L235.44,481.41 L234.14,480.49 L233.41,479 L233.41,477.2 L234.2,475.43 L235.63,474.01 L237.48,473.16 L239.44,472.97 L241.19,473.39 L242.47,474.26 L243.13,475.32 L243.16,476.29 L242.67,476.92 L241.85,477.04 L240.94,476.61 L240.18,475.67 L239.77,474.39 L239.78,472.97 L240.24,471.64 L241.03,470.59 L242.02,469.97 L243.01,469.81 L243.82,470.08 L244.32,470.68 L244.43,471.46 L244.15,472.25 L243.54,472.9 L242.72,473.3 L241.85,473.38 L241.09,473.16 L240.6,472.7 L240.48,472.13 L240.78,471.58 L241.49,471.23 L242.51,471.2 L243.72,471.6 L244.94,472.44 L245.99,473.67 L246.74,475.18 L247.08,476.77 L247.02,478.25 L246.64,479.42 L246.1,480.13 L245.61,480.34 L245.39,480.08 L245.62,479.5 L246.4,478.83 L247.72,478.32 L249.44,478.21 L251.33,478.66 L253.11,479.73 L254.47,481.32 L255.19,483.23 L255.14,485.17 L254.35,486.82 L253,487.89 L251.36,488.2 L249.78,487.73 L248.57,486.6 L247.99,485.06 L248.12,483.45 L248.92,482.13 L250.18,481.36 L251.58,481.33 L252.8,482.02 L253.51,483.28 L253.51,484.84"/>
<path d="M269.75,484.21 L269.52,485.37 L268.69,486.33 L267.41,486.86 L265.91,486.79 L264.49,486.06 L263.44,484.76 L263.01,483.11 L263.32,481.39 L264.34,479.94 L265.9,479.03 L267.72,478.85 L269.47,479.43 L270.83,480.64 L271.56,482.24 L271.56,483.87 L270.9,485.21 L269.79,485.96 L268.53,485.99 L267.48,485.28 L266.93,484.02 L267.09,482.47 L268,480.99 L269.55,479.9 L271.49,479.45 L273.5,479.76 L275.24,480.79 L276.43,482.36 L276.9,484.19 L276.62,485.97 L275.7,487.42 L274.36,488.33 L272.87,488.64 L271.52,488.39 L270.51,487.74 L269.97,486.92 L269.91,486.18 L270.22,485.73 L270.74,485.71 L271.25,486.17 L271.56,487.06 L271.52,488.24 L271.05,489.53 L270.16,490.74 L268.94,491.7 L267.53,492.29 L266.1,492.46 L264.83,492.23 L263.86,491.69 L263.29,490.97 L263.14,490.23 L263.38,489.61 L263.92,489.25 L264.61,489.21 L265.3,489.53 L265.81,490.13 L266.03,490.91 L265.88,491.72 L265.36,492.38 L264.54,492.72 L263.57,492.64 L262.63,492.1 L261.91,491.13 L261.57,489.88 L261.7,488.56 L262.29,487.39 L263.24,486.6 L264.34,486.34 L265.33,486.68 L265.95,487.54 L266,488.76 L265.35,490.06 L264.02,491.16 L262.17,491.79 L260.06,491.77 L258.02,491.06 L256.36,489.76 L255.33,488.11 L255.04,486.41 L255.46,485.01 L256.41,484.2 L257.59,484.12 L258.66,484.81 L259.31,486.11 L259.32,487.75 L258.62,489.38 L257.3,490.65 L255.59,491.29 L253.82,491.16 L252.34,490.28 L251.44,488.83 L251.31,487.08 L251.98,485.36 L253.34,483.99 L255.14,483.19 L257.08,483.06 L258.84,483.54 L260.16,484.47 L260.9,485.58 L261.04,486.61 L260.66,487.29 L259.98,487.47 L259.23,487.08 L258.65,486.18 L258.4,484.92 L258.6,483.52 L259.22,482.2 L260.18,481.15 L261.31,480.5 L262.43,480.31 L263.36,480.53 L263.94,481.07 L264.12,481.76 L263.87,482.45 L263.27,482.98 L262.43,483.23 L261.52,483.16 L260.7,482.76 L260.12,482.11 L259.9,481.32 L260.09,480.55 L260.66,479.96 L261.56,479.68 L262.64,479.82 L263.73,480.38 L264.67,481.34 L265.31,482.56"/>
<path d="M288.25,482.69 L288.68,483.68 L288.49,484.43 L287.8,484.72 L286.82,484.37 L285.83,483.34 L285.13,481.71 L284.94,479.7 L285.37,477.6 L286.4,475.75 L287.85,474.43 L289.45,473.82 L290.86,473.95 L291.78,474.7 L291.97,475.83 L291.35,477 L290.01,477.86 L288.17,478.14 L286.15,477.68 L284.33,476.51 L283.02,474.77 L282.45,472.75 L282.67,470.81 L283.6,469.26 L285,468.37 L286.56,468.24 L287.96,468.83 L288.91,469.98 L289.26,471.39 L288.97,472.77 L288.16,473.82 L287.04,474.35 L285.88,474.28 L284.95,473.67 L284.43,472.66 L284.45,471.5 L284.99,470.42 L285.94,469.65 L287.09,469.32 L288.24,469.48 L289.15,470.07 L289.67,470.98 L289.7,472 L289.22,472.97 L288.33,473.69 L287.14,474.07 L285.83,474.04 L284.56,473.63 L283.49,472.93 L282.69,472.07 L282.22,471.21 L282.04,470.5 L282.07,470.07 L282.18,470 L282.23,470.3 L282.06,470.92 L281.58,471.75 L280.73,472.64 L279.52,473.41 L278.06,473.9 L276.5,474 L275.03,473.67 L273.87,472.95 L273.19,471.99 L273.08,470.98 L273.56,470.16 L274.5,469.75 L275.72,469.91 L276.95,470.68 L277.92,472.01 L278.41,473.72 L278.3,475.54 L277.6,477.17 L276.43,478.36 L275.05,478.91 L273.76,478.78 L272.85,478.07 L272.57,477.01 L272.99,475.92 L274.08,475.12 L275.62,474.89 L277.31,475.41 L278.8,476.68 L279.77,478.55 L279.98,480.73 L279.38,482.89 L278.03,484.67 L276.19,485.8 L274.18,486.13 L272.36,485.68 L271.03,484.63 L270.39,483.25 L270.49,481.88 L271.25,480.82 L272.42,480.29 L273.73,480.39 L274.87,481.08 L275.62,482.17 L275.83,483.43 L275.5,484.55 L274.75,485.3 L273.78,485.52 L272.85,485.13 L272.19,484.21 L271.99,482.91 L272.34,481.43 L273.23,480 L274.56,478.82 L276.16,478.03 L277.83,477.66 L279.37,477.69 L280.63,478.02 L281.51,478.48 L281.99,478.93 L282.11,479.2 L281.98,479.18 L281.73,478.82 L281.51,478.13 L281.47,477.17 L281.68,476.06 L282.21,474.96 L283.02,474.03 L284.03,473.4 L285.1,473.17 L286.07,473.37 L286.76,473.94 L287.05,474.77 L286.86,475.68 L286.2,476.47 L285.16,476.94 L283.94,476.95 L282.75,476.45 L281.84,475.49 L281.41,474.21 L281.57,472.84 L282.34,471.65 L283.59,470.87 L285.11,470.67 L286.61,471.09 L287.8,472.07 L288.47,473.39 L288.49,474.75 L287.89,475.85 L286.83,476.41 L285.58,476.24 L284.48,475.32 L283.84,473.77 L283.88,471.85 L284.69,469.9 L286.18,468.27 L288.13,467.25 L290.23,466.99 L292.09,467.5 L293.4,468.62 L293.94,470.07"/>
<path d="M298.81,463.72 L298.56,465.3 L297.76,466.74 L296.53,467.77 L295.1,468.24 L293.75,468.08 L292.77,467.38 L292.37,466.35 L292.67,465.28 L293.64,464.48 L295.08,464.23 L296.73,464.69 L298.23,465.9 L299.26,467.73 L299.59,469.9 L299.11,472.07 L297.91,473.89 L296.18,475.08 L294.26,475.47 L292.5,475.06 L291.22,474 L290.62,472.58 L290.77,471.13 L291.57,469.98 L292.79,469.37 L294.12,469.42 L295.24,470.09 L295.88,471.2 L295.88,472.47 L295.22,473.59 L294.03,474.3 L292.52,474.38 L290.99,473.78 L289.7,472.55 L288.87,470.86 L288.61,468.95 L288.94,467.07 L289.74,465.45 L290.83,464.25 L291.98,463.51 L293,463.19 L293.7,463.18 L294.01,463.31 L293.92,463.38 L293.49,463.25 L292.85,462.8 L292.17,461.99 L291.6,460.84 L291.28,459.46 L291.29,457.98 L291.65,456.55 L292.34,455.34 L293.24,454.47 L294.22,454.02 L295.11,453.99 L295.77,454.35 L296.07,454.97 L295.95,455.69 L295.41,456.34 L294.55,456.74 L293.52,456.77 L292.51,456.4 L291.74,455.66 L291.37,454.67 L291.5,453.64 L292.15,452.79 L293.21,452.33 L294.49,452.42 L295.74,453.1 L296.7,454.3 L297.16,455.85 L297.01,457.46 L296.27,458.86 L295.08,459.75 L293.7,459.98 L292.44,459.48 L291.61,458.37 L291.45,456.87 L292.04,455.31 L293.36,454.01 L295.18,453.28 L297.22,453.27 L299.1,454.02 L300.5,455.36 L301.19,457.05 L301.09,458.73 L300.28,460.06 L298.98,460.78 L297.51,460.76 L296.21,460.02 L295.38,458.75 L295.21,457.22 L295.73,455.77 L296.84,454.72 L298.3,454.3 L299.81,454.61 L301.07,455.59 L301.83,457.09 L301.97,458.83 L301.48,460.55 L300.46,461.98 L299.14,462.97 L297.77,463.43 L296.59,463.44 L295.79,463.13 L295.48,462.7 L295.66,462.38 L296.24,462.35 L297.07,462.72 L297.95,463.54 L298.72,464.76 L299.21,466.27 L299.34,467.9"/>
<path d="M268.53,466.4 L268.55,467.45 L267.94,468.31 L266.83,468.74 L265.43,468.55 L264.05,467.72 L262.97,466.32 L262.42,464.55 L262.54,462.73 L263.29,461.17 L264.52,460.16 L265.93,459.87 L267.22,460.33 L268.05,461.43 L268.21,462.9 L267.61,464.41 L266.33,465.61 L264.59,466.23 L262.71,466.11 L261.05,465.26 L259.92,463.83 L259.54,462.11 L259.96,460.45 L261.08,459.17 L262.67,458.52 L264.39,458.62 L265.92,459.43 L266.98,460.77 L267.4,462.36 L267.14,463.89 L266.32,465.08 L265.14,465.74 L263.88,465.78 L262.79,465.26 L262.1,464.34 L261.9,463.25 L262.19,462.24 L262.86,461.53 L263.72,461.25 L264.57,461.46 L265.18,462.11 L265.4,463.07 L265.14,464.15 L264.41,465.17 L263.28,465.96 L261.9,466.4 L260.44,466.44 L259.07,466.1 L257.94,465.48 L257.15,464.7 L256.74,463.93 L256.68,463.31 L256.87,462.97 L257.2,462.98 L257.51,463.37 L257.65,464.08 L257.51,464.99 L257.02,465.95 L256.21,466.78 L255.14,467.33 L253.98,467.46 L252.91,467.15 L252.13,466.44 L251.81,465.45 L252.04,464.41 L252.81,463.52 L254.01,463.02 L255.44,463.07 L256.83,463.7 L257.92,464.86 L258.48,466.38 L258.4,467.98 L257.67,469.37 L256.44,470.28 L254.96,470.53 L253.53,470.09 L252.48,469.04 L252.02,467.63 L252.27,466.16 L253.18,464.98 L254.55,464.36 L256.09,464.47 L257.45,465.34 L258.31,466.8 L258.46,468.58"/>
<path d="M268,438 C278,446 290,446 292,452 M244,446 C240,452 238,452 238,458 M250,470 C256,476 262,480 266,484 M272,480 C276,478 280,476 284,474 M288,468 C292,466 294,462 294,458"/>
</g>
<circle cx="255.3" cy="451.9" r="11.4" fill="#8199cc"/>
<text x="152.4" y="519.2" font-size="15.3" font-weight="normal" font-style="normal" fill="#1e1e1e" text-anchor="start">LncRNA</text>
<text x="152.4" y="535" font-size="15.3" font-weight="normal" font-style="normal" fill="#1e1e1e" text-anchor="start">60967.1</text>
<line x1="217.3" y1="503.4" x2="217.3" y2="531.6" stroke="#2d45a0" stroke-width="1.4"/>
<polygon fill="#2d45a0" points="217.3,536.6 214.3,531.1 220.3,531.1"/>
<text x="603.8" y="36" font-size="20.8" font-weight="bold" font-style="normal" fill="#e4161e" text-anchor="middle">CRC cells with IncRNA</text>
<text x="606" y="55.2" font-size="20.8" font-weight="bold" font-style="normal" fill="#e4161e" text-anchor="middle">overexpression</text>
<text x="428" y="71.6" font-size="17.4" font-weight="normal" font-style="normal" fill="#1e1e1e" text-anchor="start">T cell</text>
<circle cx="466" cy="101" r="22.6" fill="#9cc8ac" stroke="#7daa8e" stroke-width="0.9"/>
<circle cx="467.2" cy="103.3" r="13.2" fill="#6aa88a" stroke="#5f9d7f" stroke-width="0.8"/>
<circle cx="490.3" cy="79" r="20.8" fill="#9cc8ac" stroke="#7daa8e" stroke-width="0.9"/>
<circle cx="492.1" cy="82.3" r="12.5" fill="#6aa88a" stroke="#5f9d7f" stroke-width="0.8"/>
<circle cx="516.6" cy="93.2" r="21.8" fill="#9cc8ac" stroke="#7daa8e" stroke-width="0.9"/>
<circle cx="518.2" cy="94.6" r="13.4" fill="#6aa88a" stroke="#5f9d7f" stroke-width="0.8"/>
<circle cx="490.2" cy="118.5" r="22.2" fill="#9cc8ac" stroke="#7daa8e" stroke-width="0.9"/>
<circle cx="490.4" cy="120" r="12.6" fill="#6aa88a" stroke="#5f9d7f" stroke-width="0.8"/>
<circle cx="520.2" cy="116.9" r="22" fill="#9cc8ac" stroke="#7daa8e" stroke-width="0.9"/>
<circle cx="521.5" cy="119.6" r="13.3" fill="#6aa88a" stroke="#5f9d7f" stroke-width="0.8"/>
<linearGradient id="gb1" gradientUnits="userSpaceOnUse" x1="478" y1="208.2" x2="495.3" y2="147.3"><stop offset="0" stop-color="#c8c8c8" stop-opacity="0.15"/><stop offset="0.55" stop-color="#7a7a7a"/><stop offset="1" stop-color="#3c3c3c"/></linearGradient>
<polygon fill="url(#gb1)" points="478.63,208.38 494.72,155.56 491.45,154.63 477.37,208.02"/>
<polygon fill="#3a3a3a" points="495.3,147.3 497.29,161.9 492.64,156.65 485.94,158.67"/>
<linearGradient id="gb2" gradientUnits="userSpaceOnUse" x1="545.2" y1="112.5" x2="591.9" y2="132.4"><stop offset="0" stop-color="#c8c8c8" stop-opacity="0.15"/><stop offset="0.55" stop-color="#7a7a7a"/><stop offset="1" stop-color="#3c3c3c"/></linearGradient>
<polygon fill="url(#gb2)" points="544.95,113.1 583.78,130.79 585.11,127.66 545.45,111.9"/>
<polygon fill="#3a3a3a" points="591.9,132.4 577.17,132.54 582.96,128.59 581.79,121.68"/>
<text x="597" y="112.1" font-size="15" font-weight="normal" font-style="normal" fill="#1e1e1e" text-anchor="start">IFN-γ</text>
<circle cx="607.5" cy="127.7" r="7.5" fill="#e9c4c6" opacity="0.5"/>
<circle cx="607.5" cy="127.7" r="6.3" fill="url(#gBall)" stroke="#7a1a20" stroke-width="0.6"/>
<circle cx="605.3" cy="125.1" r="1.1" fill="#d98a8e" opacity="0.8"/>
<circle cx="629.4" cy="131" r="7.5" fill="#e9c4c6" opacity="0.5"/>
<circle cx="629.4" cy="131" r="6.3" fill="url(#gBall)" stroke="#7a1a20" stroke-width="0.6"/>
<circle cx="627.2" cy="128.4" r="1.1" fill="#d98a8e" opacity="0.8"/>
<g transform="translate(366.3,2.2)">
<g>
<line x1="232.1" y1="174" x2="232.1" y2="214" stroke="#7a4a1e" stroke-width="1.9"/>
<line x1="236.7" y1="176" x2="236.7" y2="220" stroke="#7a4a1e" stroke-width="1.9"/>
<line x1="232.1" y1="212" x2="232.1" y2="218.2" stroke="#7a4a1e" stroke-width="2.1" stroke-linecap="round"/>
<line x1="236.7" y1="218" x2="236.7" y2="224.6" stroke="#7a4a1e" stroke-width="2.1" stroke-linecap="round"/>
<rect x="230.3" y="201.4" width="3.6" height="12.8" rx="1.8" fill="#c8953a" stroke="#9b6c28" stroke-width="0.6"/>
<rect x="234.9" y="207.3" width="3.6" height="12.6" rx="1.8" fill="#c8953a" stroke="#9b6c28" stroke-width="0.6"/>
<path d="M230.6,144.2 C226.8,147.2 225.8,152 226.8,157 C228,163 230.8,168.5 231.2,176.2" fill="none" stroke="#9b6c28" stroke-width="6.2" stroke-linecap="round"/>
<circle cx="228.3" cy="149.8" r="4" fill="#9b6c28"/>
<circle cx="230.3" cy="171.5" r="3.5" fill="#9b6c28"/>
<path d="M230.6,144.2 C226.8,147.2 225.8,152 226.8,157 C228,163 230.8,168.5 231.2,176.2" fill="none" stroke="#c8963c" stroke-width="5" stroke-linecap="round"/>
<circle cx="228.3" cy="149.8" r="3.4" fill="#c8963c"/>
<circle cx="230.3" cy="171.5" r="2.9" fill="#c8963c"/>
<path d="M236.2,146.4 C233.4,149.4 232.8,154 233.5,158.5 C234.7,164.5 237.4,171 237.8,178.8" fill="none" stroke="#9b6c28" stroke-width="6.2" stroke-linecap="round"/>
<circle cx="234.6" cy="151.2" r="3.8" fill="#9b6c28"/>
<circle cx="237.2" cy="174" r="3.4" fill="#9b6c28"/>
<path d="M236.2,146.4 C233.4,149.4 232.8,154 233.5,158.5 C234.7,164.5 237.4,171 237.8,178.8" fill="none" stroke="#c8963c" stroke-width="5" stroke-linecap="round"/>
<circle cx="234.6" cy="151.2" r="3.2" fill="#c8963c"/>
<circle cx="237.2" cy="174" r="2.8" fill="#c8963c"/>
</g>
<g transform="translate(484.8,0) scale(-1,1)">
<line x1="232.1" y1="174" x2="232.1" y2="214" stroke="#7a4a1e" stroke-width="1.9"/>
<line x1="236.7" y1="176" x2="236.7" y2="220" stroke="#7a4a1e" stroke-width="1.9"/>
<line x1="232.1" y1="212" x2="232.1" y2="218.2" stroke="#7a4a1e" stroke-width="2.1" stroke-linecap="round"/>
<line x1="236.7" y1="218" x2="236.7" y2="224.6" stroke="#7a4a1e" stroke-width="2.1" stroke-linecap="round"/>
<rect x="230.3" y="201.4" width="3.6" height="12.8" rx="1.8" fill="#c8953a" stroke="#9b6c28" stroke-width="0.6"/>
<rect x="234.9" y="207.3" width="3.6" height="12.6" rx="1.8" fill="#c8953a" stroke="#9b6c28" stroke-width="0.6"/>
<path d="M230.6,144.2 C226.8,147.2 225.8,152 226.8,157 C228,163 230.8,168.5 231.2,176.2" fill="none" stroke="#9b6c28" stroke-width="6.2" stroke-linecap="round"/>
<circle cx="228.3" cy="149.8" r="4" fill="#9b6c28"/>
<circle cx="230.3" cy="171.5" r="3.5" fill="#9b6c28"/>
<path d="M230.6,144.2 C226.8,147.2 225.8,152 226.8,157 C228,163 230.8,168.5 231.2,176.2" fill="none" stroke="#c8963c" stroke-width="5" stroke-linecap="round"/>
<circle cx="228.3" cy="149.8" r="3.4" fill="#c8963c"/>
<circle cx="230.3" cy="171.5" r="2.9" fill="#c8963c"/>
<path d="M236.2,146.4 C233.4,149.4 232.8,154 233.5,158.5 C234.7,164.5 237.4,171 237.8,178.8" fill="none" stroke="#9b6c28" stroke-width="6.2" stroke-linecap="round"/>
<circle cx="234.6" cy="151.2" r="3.8" fill="#9b6c28"/>
<circle cx="237.2" cy="174" r="3.4" fill="#9b6c28"/>
<path d="M236.2,146.4 C233.4,149.4 232.8,154 233.5,158.5 C234.7,164.5 237.4,171 237.8,178.8" fill="none" stroke="#c8963c" stroke-width="5" stroke-linecap="round"/>
<circle cx="234.6" cy="151.2" r="3.2" fill="#c8963c"/>
<circle cx="237.2" cy="174" r="2.8" fill="#c8963c"/>
</g>
</g>
<circle cx="608.5" cy="159.3" r="7.5" fill="#e9c4c6" opacity="0.5"/>
<circle cx="608.5" cy="159.3" r="6.3" fill="url(#gBall)" stroke="#7a1a20" stroke-width="0.6"/>
<circle cx="606.3" cy="156.7" r="1.1" fill="#d98a8e" opacity="0.8"/>
<text x="514.8" y="171.8" font-size="15.5" font-weight="normal" font-style="normal" fill="#1e1e1e" text-anchor="start">IFNGR1</text>
<line x1="572.6" y1="151.8" x2="572.6" y2="179.5" stroke="#e8202a" stroke-width="1.4"/>
<polygon fill="#e8202a" points="572.6,146.8 569.6,152.3 575.6,152.3"/>
<text x="670" y="119.8" font-size="15.8" font-weight="bold" font-style="italic" fill="#1e1e1e" text-anchor="start">Inhibition of</text>
<text x="670.3" y="137.4" font-size="15.5" font-weight="bold" font-style="italic" fill="#1e1e1e" text-anchor="start">cell proliferation</text>
<line x1="715.3" y1="165.3" x2="710.4" y2="177" stroke="#e8a232" stroke-width="1.8" stroke-linecap="round"/>
<ellipse cx="708" cy="178.1" rx="3" ry="1.95" transform="rotate(12 708 178.1)" fill="#e8a232"/>
<line x1="722" y1="167.9" x2="717.9" y2="180" stroke="#e8a232" stroke-width="1.8" stroke-linecap="round"/>
<ellipse cx="719.3" cy="182.2" rx="2.9" ry="1.95" transform="rotate(35 719.3 182.2)" fill="#e8a232"/>
<line x1="702.1" y1="200.1" x2="691.9" y2="231.2" stroke="#5c2d3d" stroke-width="1.5"/>
<line x1="707.6" y1="201.5" x2="698.6" y2="232.6" stroke="#5c2d3d" stroke-width="1.5"/>
<ellipse cx="696.3" cy="188.4" rx="3.6" ry="4.9" transform="rotate(-35 696.3 188.4)" fill="#a5527a"/>
<ellipse cx="700.7" cy="196.2" rx="3.1" ry="4" transform="rotate(-20 700.7 196.2)" fill="#a5527a"/>
<ellipse cx="718.7" cy="194.6" rx="5.4" ry="3.6" transform="rotate(-25 718.7 194.6)" fill="#a5527a"/>
<ellipse cx="710.5" cy="199.4" rx="4" ry="3" transform="rotate(-25 710.5 199.4)" fill="#a5527a"/>
<text x="729.3" y="170.3" font-size="15.2" font-weight="normal" font-style="normal" fill="#1e1e1e" text-anchor="start">PD-1</text>
<text x="729.3" y="200.4" font-size="15.2" font-weight="normal" font-style="normal" fill="#1e1e1e" text-anchor="start">PD-L1</text>
<path d="M626.5,174.6 C645,173.2 666,176 686.5,185.6" fill="none" stroke="#222" stroke-width="2" stroke-dasharray="6 3.6" stroke-dashoffset="2"/>
<path d="M679.8,179.2 L688.4,186.3 L676.6,186.2" fill="none" stroke="#222" stroke-width="1.8" stroke-linejoin="miter"/>
<path d="M525.4,254.8 L695,254.8 L695,239" fill="none" stroke="#262626" stroke-width="2.2" stroke-dasharray="6.6 4.3"/>
<path d="M690.8,248.7 L694.9,237.6 L698.9,248.7" fill="none" stroke="#262626" stroke-width="1.8"/>
<text x="466.5" y="261" font-size="16.2" font-weight="normal" font-style="normal" fill="#1e1e1e" text-anchor="start">ATRA</text>
<line x1="518.7" y1="240.3" x2="518.7" y2="268.6" stroke="#e8202a" stroke-width="1.4"/>
<polygon fill="#e8202a" points="518.7,235.3 515.7,240.8 521.7,240.8"/>
<g transform="translate(388,13)">
<line x1="98" y1="260.75" x2="92.75" y2="268.25" stroke="#6b7296" stroke-width="1"/>
<line x1="98" y1="260.75" x2="109.25" y2="267.8" stroke="#6b7296" stroke-width="1"/>
<line x1="109.25" y1="267.8" x2="105.8" y2="277" stroke="#6b7296" stroke-width="1"/>
<line x1="105.8" y1="277" x2="116.4" y2="279.5" stroke="#6b7296" stroke-width="1"/>
<line x1="105.8" y1="277" x2="100.7" y2="280.5" stroke="#6b7296" stroke-width="1"/>
<line x1="116.4" y1="279.5" x2="108.8" y2="285.5" stroke="#6b7296" stroke-width="1"/>
<line x1="108.8" y1="285.5" x2="99.5" y2="294.2" stroke="#6b7296" stroke-width="1"/>
<line x1="108.8" y1="285.5" x2="111.8" y2="294.2" stroke="#6b7296" stroke-width="1"/>
<line x1="99.5" y1="294.2" x2="101.75" y2="302.4" stroke="#6b7296" stroke-width="1"/>
<line x1="111.8" y1="294.2" x2="113.75" y2="303.5" stroke="#6b7296" stroke-width="1"/>
<line x1="101.75" y1="302.4" x2="88.7" y2="307.7" stroke="#6b7296" stroke-width="1"/>
<line x1="87.5" y1="302.3" x2="88.7" y2="307.7" stroke="#6b7296" stroke-width="1"/>
<line x1="101.75" y1="302.4" x2="108.2" y2="311" stroke="#6b7296" stroke-width="1"/>
<line x1="113.75" y1="303.5" x2="108.2" y2="311" stroke="#6b7296" stroke-width="1"/>
<line x1="108.2" y1="311" x2="119.75" y2="309.8" stroke="#6b7296" stroke-width="1"/>
<line x1="113.75" y1="303.5" x2="119.75" y2="309.8" stroke="#6b7296" stroke-width="1"/>
<line x1="119.75" y1="309.8" x2="125.75" y2="303.5" stroke="#6b7296" stroke-width="1"/>
<line x1="101.4" y1="310.5" x2="108.2" y2="311" stroke="#6b7296" stroke-width="1"/>
<line x1="108.2" y1="311" x2="105.2" y2="319.7" stroke="#6b7296" stroke-width="1"/>
<circle cx="98" cy="260.75" r="3" fill="url(#gAg)"/>
<circle cx="92.75" cy="268.25" r="3.6" fill="url(#gAg)"/>
<circle cx="109.25" cy="267.8" r="3" fill="url(#gAg)"/>
<circle cx="105.8" cy="277" r="2.6" fill="url(#gAo)"/>
<circle cx="100.7" cy="280.5" r="1.8" fill="url(#gAg)"/>
<circle cx="116.4" cy="279.5" r="3" fill="url(#gAr)"/>
<circle cx="108.8" cy="285.5" r="3" fill="url(#gAg)"/>
<circle cx="99.5" cy="294.2" r="2.7" fill="url(#gAo)"/>
<circle cx="93" cy="295.25" r="1.8" fill="url(#gAr)"/>
<circle cx="111.8" cy="294.2" r="2.7" fill="url(#gAt)"/>
<circle cx="101.75" cy="302.4" r="3" fill="url(#gAg)"/>
<circle cx="113.75" cy="303.5" r="3" fill="url(#gAg)"/>
<circle cx="125.75" cy="303.5" r="3" fill="url(#gAt)"/>
<circle cx="87.5" cy="302.3" r="1.8" fill="url(#gAo)"/>
<circle cx="88.7" cy="307.7" r="3" fill="url(#gAo)"/>
<circle cx="101.4" cy="310.5" r="1.8" fill="url(#gAg)"/>
<circle cx="108.2" cy="311" r="2.7" fill="url(#gAr)"/>
<circle cx="119.75" cy="309.8" r="3" fill="url(#gAg)"/>
<circle cx="105.2" cy="319.7" r="3" fill="url(#gAr)"/>
</g>
<linearGradient id="gb3" gradientUnits="userSpaceOnUse" x1="574.7" y1="302.75" x2="520.3" y2="290"><stop offset="0" stop-color="#c8c8c8" stop-opacity="0.15"/><stop offset="0.55" stop-color="#7a7a7a"/><stop offset="1" stop-color="#3c3c3c"/></linearGradient>
<polygon fill="url(#gb3)" points="574.85,302.12 528.57,290.19 527.8,293.5 574.55,303.38"/>
<polygon fill="#3a3a3a" points="520.3,290 534.79,287.34 529.76,292.22 532.1,298.82"/>
<g transform="translate(397.5,-0.5)">
<path d="M201.4,266.4 A11.6,11.6 0 0 1 210.3,267 A15.27,15.27 0 0 1 221.6,270.2 A9.19,9.19 0 0 1 227.9,273.4 A5.96,5.96 0 0 1 229.2,277.8 A7.72,7.72 0 0 1 226,282.8 A8.18,8.18 0 0 1 221.6,287.3 A5.77,5.77 0 0 1 221,291.7 A7,7 0 0 1 224.1,296.1 A8.68,8.68 0 0 1 230.5,298 A9.9,9.9 0 0 1 238,296.7 A10.67,10.67 0 0 1 245.6,293.6 A10.18,10.18 0 0 1 253.2,291.7 A8.81,8.81 0 0 1 259.5,294.2 A5.96,5.96 0 0 1 260.8,298.6 A7.08,7.08 0 0 1 258.9,303.7 A8.24,8.24 0 0 1 258.2,310 A11.05,11.05 0 0 1 254.4,317.6 A10.46,10.46 0 0 1 248.1,322.6 A13.53,13.53 0 0 1 238,325.1 A13.15,13.15 0 0 1 227.9,324.5 A10.06,10.06 0 0 1 220.4,326.4 A14.03,14.03 0 0 1 210.3,330.2 A11.6,11.6 0 0 1 201.4,330.8 A9.99,9.99 0 0 1 195.1,326.4 A10.02,10.02 0 0 1 193.8,318.8 A11.7,11.7 0 0 1 191.9,310 A10.67,10.67 0 0 1 188.8,302.4 A11.47,11.47 0 0 1 188.2,293.6 A13.22,13.22 0 0 1 189.4,283.5 A8.36,8.36 0 0 1 190.7,277.2 A8.18,8.18 0 0 1 195.1,272.7 A7.56,7.56 0 0 1 198.9,268.3 A4.08,4.08 0 0 1 201.4,266.4Z" fill="#6884c1" stroke="#5677bb" stroke-width="2.2" stroke-linejoin="round"/>
<clipPath id="pc397"><path d="M201.4,266.4 A11.6,11.6 0 0 1 210.3,267 A15.27,15.27 0 0 1 221.6,270.2 A9.19,9.19 0 0 1 227.9,273.4 A5.96,5.96 0 0 1 229.2,277.8 A7.72,7.72 0 0 1 226,282.8 A8.18,8.18 0 0 1 221.6,287.3 A5.77,5.77 0 0 1 221,291.7 A7,7 0 0 1 224.1,296.1 A8.68,8.68 0 0 1 230.5,298 A9.9,9.9 0 0 1 238,296.7 A10.67,10.67 0 0 1 245.6,293.6 A10.18,10.18 0 0 1 253.2,291.7 A8.81,8.81 0 0 1 259.5,294.2 A5.96,5.96 0 0 1 260.8,298.6 A7.08,7.08 0 0 1 258.9,303.7 A8.24,8.24 0 0 1 258.2,310 A11.05,11.05 0 0 1 254.4,317.6 A10.46,10.46 0 0 1 248.1,322.6 A13.53,13.53 0 0 1 238,325.1 A13.15,13.15 0 0 1 227.9,324.5 A10.06,10.06 0 0 1 220.4,326.4 A14.03,14.03 0 0 1 210.3,330.2 A11.6,11.6 0 0 1 201.4,330.8 A9.99,9.99 0 0 1 195.1,326.4 A10.02,10.02 0 0 1 193.8,318.8 A11.7,11.7 0 0 1 191.9,310 A10.67,10.67 0 0 1 188.8,302.4 A11.47,11.47 0 0 1 188.2,293.6 A13.22,13.22 0 0 1 189.4,283.5 A8.36,8.36 0 0 1 190.7,277.2 A8.18,8.18 0 0 1 195.1,272.7 A7.56,7.56 0 0 1 198.9,268.3 A4.08,4.08 0 0 1 201.4,266.4Z"/></clipPath>
<g clip-path="url(#pc397)"><g fill="#7e90c5" filter="url(#blur1)">
<ellipse cx="213" cy="276.5" rx="11" ry="8.5"/>
<ellipse cx="200.5" cy="296" rx="7.5" ry="8"/>
<ellipse cx="196" cy="283" rx="4" ry="4"/>
<ellipse cx="206" cy="318" rx="8" ry="7.5"/>
<ellipse cx="244" cy="306" rx="10" ry="8"/>
<ellipse cx="254" cy="299.5" rx="5.5" ry="5"/>
<ellipse cx="226.5" cy="313" rx="8.5" ry="7"/>
<ellipse cx="221" cy="292" rx="4.5" ry="4.5"/>
<ellipse cx="236" cy="320" rx="5" ry="3.5"/>
</g>
</g></g>
<text x="540.3" y="355.2" font-size="15.4" font-weight="normal" font-style="normal" fill="#1e1e1e" text-anchor="start">PLCD4</text>
<line x1="594.3" y1="338.8" x2="594.3" y2="367" stroke="#e8202a" stroke-width="1.4"/>
<polygon fill="#e8202a" points="594.3,333.8 591.3,339.3 597.3,339.3"/>
<g transform="translate(396.5,0)">
<path d="M185,384.1 C182,392 175,397.5 166,400 C156,402.2 146,401 136,403.5 C124,406.5 116,417 112.8,431.5" fill="none" stroke="#5a92bd" stroke-width="6.5" stroke-dasharray="0.9 1.35" transform="translate(0.9,1.6)"/>
<path d="M185,384.1 C182,392 175,397.5 166,400 C156,402.2 146,401 136,403.5 C124,406.5 116,417 112.8,431.5" fill="none" stroke="#f1f7fb" stroke-width="2.6" transform="translate(-0.6,-1.2)"/>
<path d="M185,384.1 C182,392 175,397.5 166,400 C156,402.2 146,401 136,403.5 C124,406.5 116,417 112.8,431.5" fill="none" stroke="#2f6f9f" stroke-width="1.7"/>
<circle cx="186.5" cy="380.2" r="4.4" fill="#2d86ac"/>
</g>
<linearGradient id="gb4" gradientUnits="userSpaceOnUse" x1="549.1" y1="458.1" x2="529.7" y2="420.6"><stop offset="0" stop-color="#c8c8c8" stop-opacity="0.15"/><stop offset="0.55" stop-color="#7a7a7a"/><stop offset="1" stop-color="#3c3c3c"/></linearGradient>
<polygon fill="url(#gb4)" points="549.68,457.8 534.93,427.01 531.91,428.58 548.52,458.4"/>
<polygon fill="#3a3a3a" points="529.7,420.6 541.14,429.88 534.17,429.23 530.66,435.3"/>
<g transform="translate(397,0)" fill="none" stroke="#6ea1c1" stroke-width="1.1">
<path d="M84.6,487 L87,486.6 L89.6,499.4 L87.2,499.9 Z" fill="#b9dbe8" stroke="none"/>
<path d="M107,487.4 L110,487.4 L110,496 L107,496 Z" fill="#b9dbe8" stroke="none"/>
<path d="M105.8,510.5 L111.8,512 L107.4,523 L103.2,522.3 Z" fill="#b9dbe8" stroke="none"/>
<path d="M156,468.4 L159.4,469.6 L158.2,472 L154.8,470.9 Z" fill="#b9dbe8" stroke="none"/>
<path d="M151.6,481.8 L155,483 L153.8,485.4 L150.4,484.4 Z" fill="#b9dbe8" stroke="none"/>
<path d="M84.9,488.6 L87.2,488.2 M85.3,490.4 L87.6,490 M86.4,495.6 L88.7,495.1 M86.8,497.4 L89.1,496.9 M107,489 L110,489 M107,490.8 L110,490.8 M107,492.6 L110,492.6 M105.4,512 L111.2,513.6 M104.9,514 L110.5,515.6 M104.4,516 L109.8,517.6 M103.9,518 L109.1,519.6 M103.4,520 L108.4,521.6 M107,494.4 L110,494.4" stroke="#6b9ebf" stroke-width="0.7"/>
<path d="M62.5,507.7 C66,504 70,504 74,506.5 C79,509.5 84,508.5 86.5,503 L84.2,487"/>
<path d="M87.6,486.6 L90.3,499.5 C92,502.5 96,502.6 100.7,502.6 C104,502.8 106,503.2 107.5,503.7"/>
<circle cx="84" cy="482.9" r="3.9"/>
<circle cx="85.6" cy="492.8" r="1.8"/>
<path d="M106.8,487.4 L106.8,500 C107,502 108,503 109.2,504.6 C110,503 110.3,502 110.2,500 L110.2,487.4"/>
<circle cx="108.5" cy="484.1" r="3.5"/>
<path d="M109.2,504.6 C113,504.5 118,505 121,506 C124,507 126,508.5 128,508.6 C132,508.5 134,503 136,499 C139,493 145,489.5 151.5,485"/>
<path d="M109.6,505.2 C112,507 113,509 112,512 L106.6,524.8 M108.8,505.4 C107,507.5 106,509 105.5,511.5 L102.4,524.2"/>
<circle cx="103.2" cy="528.4" r="4.2"/>
<ellipse cx="154.6" cy="477.3" rx="4.2" ry="5.4" transform="rotate(20 154.6 477.3)"/>
<circle cx="159.5" cy="464.9" r="4.1"/>
<path d="M153.2,484.5 C153,488 153,491 155,493 C158,495.5 161,497.5 163.6,501.5 C165.5,504 167.5,505.5 169.8,505.7"/>
</g>
<circle cx="662.3" cy="457.5" r="37.7" fill="#c9d5ed" stroke="#7791cc" stroke-width="3.1" stroke-dasharray="19.69 4" stroke-dashoffset="0"/>
<g transform="translate(396.8,0)" fill="none" stroke="#a2b2dc" stroke-width="0.9">
<path d="M273.49,434.15 L273.34,434.98 L272.51,435.64 L271.13,435.88 L269.4,435.54 L267.62,434.57 L266.09,433.04 L265.04,431.19 L264.58,429.29 L264.7,427.68 L265.23,426.63 L265.91,426.33 L266.42,426.79 L266.44,427.9 L265.77,429.4 L264.33,430.95 L262.2,432.19 L259.62,432.85 L256.92,432.77 L254.46,431.95 L252.58,430.54 L251.49,428.84 L251.26,427.18 L251.78,425.89 L252.84,425.21 L254.11,425.26 L255.25,425.99 L256,427.23 L256.17,428.71 L255.75,430.1 L254.82,431.13 L253.59,431.59 L252.34,431.43 L251.31,430.69 L250.71,429.52 L250.63,428.18 L251.07,426.91 L251.89,425.92 L252.92,425.37 L253.93,425.31 L254.68,425.68 L255.03,426.37 L254.88,427.2 L254.23,427.98 L253.16,428.55 L251.8,428.79 L250.33,428.66 L248.92,428.18 L247.73,427.45 L246.86,426.6 L246.35,425.79 L246.18,425.16 L246.28,424.86 L246.51,424.96 L246.74,425.46 L246.82,426.32 L246.66,427.43 L246.2,428.62 L245.45,429.71 L244.51,430.54 L243.53,431 L242.71,431.03 L242.26,430.68 L242.33,430.08 L243.02,429.42 L244.32,428.94 L246.12,428.84 L248.21,429.28 L250.32,430.32 L252.16,431.87 L253.52,433.76 L254.26,435.71 L254.38,437.44 L254.01,438.66 L253.38,439.2 L252.8,439.01 L252.57,438.19 L252.9,436.96 L253.9,435.66 L255.51,434.6 L257.53,434.07 L259.66,434.25 L261.54,435.14 L262.86,436.59 L263.4,438.35 L263.1,440.06 L262.04,441.37 L260.46,442.03 L258.71,441.89 L257.15,440.98 L256.08,439.48 L255.71,437.67 L256.1,435.88 L257.15,434.43 L258.65,433.56 L260.29,433.35 L261.79,433.77 L262.9,434.64 L263.49,435.72 L263.55,436.71 L263.2,437.39 L262.62,437.57 L262.08,437.2 L261.8,436.34 L261.95,435.14 L262.62,433.8 L263.79,432.56 L265.36,431.6 L267.15,431.04 L268.96,430.94 L270.57,431.26 L271.83,431.88 L272.65,432.65 L272.98,433.39 L272.89,433.96 L272.46,434.23 L271.85,434.14 L271.2,433.69 L270.66,432.95 L270.31,432.04 L270.22,431.1 L270.37,430.3 L270.67,429.76 L271.01,429.59 L271.22,429.8 L271.14,430.35 L270.65,431.12 L269.68,431.93 L268.24,432.59 L266.46,432.9 L264.5,432.73 L262.61,432.02 L261.03,430.84 L259.96,429.32 L259.53,427.71 L259.74,426.27 L260.46,425.25 L261.49,424.81 L262.54,425.02 L263.31,425.8 L263.57,426.95 L263.21,428.17 L262.23,429.16 L260.81,429.64 L259.21,429.44 L257.75,428.53 L256.73,427.03 L256.39,425.21 L256.78,423.41 L257.85,421.96 L259.35,421.17 L260.97,421.18 L262.33,421.99 L263.11,423.45 L263.1,425.28 L262.23,427.12 L260.61,428.65 L258.45,429.6 L256.1,429.87 L253.88,429.49 L252.09,428.62 L250.89,427.54 L250.34,426.55 L250.32,425.95 L250.63,425.91 L251.02,426.51 L251.22,427.7 L251.03,429.3 L250.36,431.07 L249.21,432.76 L247.7,434.13 L246.04,435.05 L244.45,435.45 L243.14,435.38 L242.3,434.96 L242.01,434.38 L242.27,433.83 L243,433.46 L244.06,433.41 L245.28,433.71 L246.47,434.34 L247.49,435.22 L248.23,436.21 L248.65,437.15 L248.77,437.9 L248.68,438.33 L248.49,438.37 L248.35,438.02 L248.4,437.33 L248.74,436.41 L249.42,435.44 L250.43,434.59 L251.67,434.01 L252.99,433.84 L254.19,434.12 L255.09,434.8 L255.52,435.76"/>
<path d="M280.31,444.46 L280.26,445.83 L279.61,447.01 L278.49,447.76 L277.1,447.9 L275.74,447.37 L274.69,446.26 L274.18,444.76 L274.31,443.17 L275.07,441.81 L276.27,440.94 L277.64,440.75 L278.86,441.27 L279.6,442.35 L279.64,443.76 L278.9,445.13 L277.46,446.14 L275.55,446.49 L273.49,446.04 L271.66,444.79 L270.37,442.91 L269.84,440.68 L270.15,438.45 L271.19,436.55 L272.75,435.24 L274.49,434.64 L276.11,434.72 L277.32,435.3 L277.97,436.13 L278.02,436.89 L277.58,437.31 L276.87,437.21 L276.16,436.5 L275.7,435.27 L275.7,433.67 L276.27,431.94 L277.38,430.35 L278.94,429.1 L280.73,428.35 L282.53,428.15 L284.12,428.46 L285.33,429.14 L286.06,430.02 L286.31,430.91 L286.14,431.64 L285.69,432.09 L285.12,432.21 L284.59,432.02 L284.24,431.61 L284.18,431.09 L284.43,430.63 L284.96,430.37 L285.69,430.43 L286.49,430.87 L287.2,431.71 L287.7,432.88 L287.85,434.27 L287.63,435.71 L287.03,437.01 L286.15,438.01 L285.16,438.59 L284.25,438.7 L283.62,438.38 L283.46,437.75 L283.85,437.03 L284.81,436.43 L286.22,436.17 L287.88,436.41 L289.54,437.21 L290.92,438.49 L291.8,440.09 L292.06,441.74 L291.69,443.14 L290.85,444.04 L289.76,444.25 L288.74,443.75 L288.09,442.64 L288.01,441.15 L288.62,439.6 L289.85,438.34 L291.51,437.66 L293.28,437.73 L294.82,438.57 L295.78,440.04 L295.96,441.86 L295.27,443.69 L293.81,445.2 L291.81,446.1 L289.59,446.28 L287.52,445.74 L285.9,444.66 L284.93,443.32 L284.67,442.05 L285.02,441.16 L285.75,440.87 L286.58,441.27 L287.22,442.32 L287.43,443.83 L287.08,445.54 L286.16,447.16 L284.8,448.44 L283.21,449.21 L281.64,449.39 L280.33,449.04 L279.46,448.31 L279.13,447.38 L279.35,446.49 L279.99,445.81 L280.91,445.48 L281.9,445.52 L282.76,445.91 L283.34,446.54 L283.55,447.23 L283.36,447.84 L282.81,448.2 L282.02,448.19 L281.12,447.77 L280.26,446.94 L279.57,445.76 L279.15,444.37 L279.05,442.92 L279.24,441.58 L279.64,440.48 L280.11,439.74 L280.49,439.38 L280.6,439.36 L280.32,439.58 L279.57,439.87 L278.36,440.02 L276.79,439.87 L275.05,439.27 L273.37,438.18 L271.98,436.67 L271.1,434.88 L270.83,433.04 L271.2,431.44 L272.08,430.31 L273.26,429.82 L274.45,430.03 L275.38,430.86 L275.81,432.11 L275.64,433.48 L274.89,434.65 L273.72,435.34 L272.41,435.38 L271.29,434.73 L270.67,433.5 L270.78,431.95 L271.69,430.42 L273.33,429.24 L275.48,428.69 L277.81,428.92 L279.94,429.93 L281.56,431.54 L282.44,433.49 L282.52,435.4 L281.88,436.95 L280.75,437.89 L279.45,438.09 L278.3,437.58 L277.59,436.54 L277.48,435.23 L277.99,433.98 L279.02,433.06 L280.35,432.68 L281.72,432.9 L282.84,433.68 L283.53,434.85 L283.67,436.18 L283.27,437.42 L282.45,438.35 L281.39,438.84 L280.34,438.82 L279.51,438.36 L279.07,437.58 L279.12,436.68 L279.66,435.86 L280.62,435.27 L281.85,435.06 L283.21,435.26 L284.5,435.85 L285.6,436.76 L286.4,437.85"/>
<path d="M238.24,446.13 L237.6,447.08 L236.37,447.93 L234.67,448.44 L232.75,448.44 L230.89,447.87 L229.4,446.8 L228.5,445.45 L228.33,444.1 L228.86,443.06 L229.92,442.6 L231.23,442.9 L232.46,443.98 L233.3,445.7 L233.5,447.79 L232.99,449.91 L231.83,451.71 L230.23,452.9 L228.51,453.31 L227.02,452.95 L226.08,451.98 L225.88,450.67 L226.47,449.36 L227.76,448.39 L229.49,448 L231.35,448.3 L233,449.26 L234.16,450.71 L234.65,452.37 L234.46,453.94 L233.68,455.13 L232.54,455.77 L231.31,455.79 L230.26,455.23 L229.61,454.28 L229.46,453.17 L229.82,452.16 L230.58,451.47 L231.58,451.26 L232.59,451.57 L233.41,452.37 L233.88,453.53 L233.92,454.87 L233.55,456.21 L232.83,457.38 L231.92,458.27 L230.97,458.83 L230.17,459.07 L229.66,459.09 L229.53,459.01 L229.81,458.98 L230.48,459.16 L231.42,459.65 L232.52,460.52 L233.6,461.79 L234.52,463.39 L235.14,465.19 L235.4,467.03 L235.3,468.72 L234.92,470.08 L234.41,470.99 L233.94,471.4 L233.72,471.34 L233.9,470.94 L234.57,470.39 L235.73,469.91 L237.27,469.72 L238.98,469.96 L240.6,470.69 L241.86,471.84 L242.56,473.23 L242.56,474.58 L241.89,475.62 L240.69,476.07 L239.22,475.76 L237.8,474.65 L236.73,472.85 L236.26,470.6 L236.5,468.22 L237.41,466.06 L238.8,464.41 L240.36,463.46 L241.77,463.22 L242.69,463.56 L242.92,464.22 L242.38,464.86 L241.16,465.14 L239.5,464.82 L237.72,463.76 L236.17,461.99 L235.16,459.69 L234.86,457.16 L235.33,454.72 L236.45,452.7 L237.99,451.33 L239.63,450.7 L241.08,450.78 L242.08,451.38 L242.48,452.26 L242.27,453.12 L241.56,453.72 L240.54,453.88 L239.45,453.54 L238.53,452.75 L237.96,451.65 L237.83,450.45 L238.14,449.36 L238.79,448.56 L239.62,448.18 L240.43,448.25 L241.05,448.72 L241.32,449.5 L241.17,450.4 L240.58,451.27 L239.62,451.93 L238.41,452.27 L237.09,452.22 L235.84,451.79 L234.8,451.05 L234.08,450.1 L233.73,449.12 L233.75,448.25 L234.05,447.63 L234.5,447.37 L234.93,447.49 L235.18,447.96 L235.12,448.67 L234.65,449.43 L233.79,450.06 L232.63,450.38 L231.33,450.25 L230.11,449.64 L229.21,448.59 L228.8,447.28 L229.01,445.93 L229.8,444.82 L231.07,444.19 L232.57,444.22 L234.01,444.97 L235.11,446.36 L235.62,448.18 L235.43,450.16 L234.56,451.96 L233.16,453.32 L231.53,454.05 L229.99,454.11 L228.87,453.63 L228.38,452.86 L228.63,452.13 L229.56,451.78 L230.95,452.08 L232.48,453.17 L233.81,455.06 L234.63,457.56 L234.73,460.39 L234.06,463.19 L232.72,465.62 L230.96,467.41 L229.1,468.44 L227.47,468.73 L226.37,468.46 L225.96,467.87 L226.26,467.28 L227.19,466.97 L228.5,467.12 L229.93,467.81 L231.21,468.98 L232.11,470.46 L232.52,472.02 L232.44,473.39 L231.96,474.36 L231.26,474.78 L230.57,474.62 L230.08,473.91 L229.95,472.79 L230.27,471.46 L231.03,470.11 L232.13,468.92 L233.45,468.02 L234.81,467.45 L236.03,467.22 L236.96,467.23 L237.52,467.36 L237.67,467.47 L237.44,467.41 L236.94,467.07 L236.3,466.38 L235.68,465.34 L235.23,464 L235.07,462.5 L235.27,460.98 L235.83,459.64 L236.67,458.63 L237.64,458.07 L238.56,458.01 L239.25,458.39 L239.53,459.09"/>
<path d="M249.45,474.67 L249.19,475.88 L248.37,476.9 L247.11,477.48 L245.66,477.46 L244.31,476.78 L243.36,475.54 L243.03,473.95 L243.45,472.3 L244.58,470.92 L246.26,470.09 L248.19,469.99 L250.05,470.66 L251.49,471.98 L252.29,473.69 L252.34,475.45 L251.7,476.92 L250.58,477.82 L249.29,478.01 L248.18,477.47 L247.55,476.39 L247.59,475.04 L248.36,473.76 L249.75,472.88 L251.51,472.66 L253.33,473.19 L254.86,474.45 L255.83,476.25 L256.08,478.32 L255.59,480.33 L254.46,482.01 L252.93,483.15 L251.27,483.68 L249.76,483.63 L248.63,483.18 L247.99,482.54 L247.85,481.97 L248.13,481.67 L248.64,481.79 L249.18,482.36 L249.55,483.33 L249.59,484.58 L249.24,485.92 L248.49,487.15 L247.43,488.11 L246.19,488.67 L244.95,488.79 L243.87,488.48 L243.1,487.85 L242.72,487.01 L242.75,486.12 L243.17,485.35 L243.86,484.81 L244.69,484.58 L245.49,484.69 L246.09,485.07 L246.37,485.63 L246.25,486.2 L245.74,486.61 L244.9,486.71 L243.89,486.39 L242.88,485.6 L242.08,484.39 L241.63,482.91 L241.65,481.35 L242.13,479.96 L242.95,478.96 L243.93,478.5 L244.81,478.64 L245.34,479.32 L245.3,480.37 L244.58,481.52 L243.22,482.48 L241.36,482.98 L239.26,482.84 L237.26,482.03 L235.68,480.64 L234.74,478.9 L234.58,477.13 L235.16,475.67 L236.28,474.79 L237.66,474.67 L238.94,475.31 L239.81,476.56 L240.05,478.16 L239.58,479.75 L238.49,480.98 L237,481.58 L235.44,481.41 L234.14,480.49 L233.41,479 L233.41,477.2 L234.2,475.43 L235.63,474.01 L237.48,473.16 L239.44,472.97 L241.19,473.39 L242.47,474.26 L243.13,475.32 L243.16,476.29 L242.67,476.92 L241.85,477.04 L240.94,476.61 L240.18,475.67 L239.77,474.39 L239.78,472.97 L240.24,471.64 L241.03,470.59 L242.02,469.97 L243.01,469.81 L243.82,470.08 L244.32,470.68 L244.43,471.46 L244.15,472.25 L243.54,472.9 L242.72,473.3 L241.85,473.38 L241.09,473.16 L240.6,472.7 L240.48,472.13 L240.78,471.58 L241.49,471.23 L242.51,471.2 L243.72,471.6 L244.94,472.44 L245.99,473.67 L246.74,475.18 L247.08,476.77 L247.02,478.25 L246.64,479.42 L246.1,480.13 L245.61,480.34 L245.39,480.08 L245.62,479.5 L246.4,478.83 L247.72,478.32 L249.44,478.21 L251.33,478.66 L253.11,479.73 L254.47,481.32 L255.19,483.23 L255.14,485.17 L254.35,486.82 L253,487.89 L251.36,488.2 L249.78,487.73 L248.57,486.6 L247.99,485.06 L248.12,483.45 L248.92,482.13 L250.18,481.36 L251.58,481.33 L252.8,482.02 L253.51,483.28 L253.51,484.84"/>
<path d="M269.75,484.21 L269.52,485.37 L268.69,486.33 L267.41,486.86 L265.91,486.79 L264.49,486.06 L263.44,484.76 L263.01,483.11 L263.32,481.39 L264.34,479.94 L265.9,479.03 L267.72,478.85 L269.47,479.43 L270.83,480.64 L271.56,482.24 L271.56,483.87 L270.9,485.21 L269.79,485.96 L268.53,485.99 L267.48,485.28 L266.93,484.02 L267.09,482.47 L268,480.99 L269.55,479.9 L271.49,479.45 L273.5,479.76 L275.24,480.79 L276.43,482.36 L276.9,484.19 L276.62,485.97 L275.7,487.42 L274.36,488.33 L272.87,488.64 L271.52,488.39 L270.51,487.74 L269.97,486.92 L269.91,486.18 L270.22,485.73 L270.74,485.71 L271.25,486.17 L271.56,487.06 L271.52,488.24 L271.05,489.53 L270.16,490.74 L268.94,491.7 L267.53,492.29 L266.1,492.46 L264.83,492.23 L263.86,491.69 L263.29,490.97 L263.14,490.23 L263.38,489.61 L263.92,489.25 L264.61,489.21 L265.3,489.53 L265.81,490.13 L266.03,490.91 L265.88,491.72 L265.36,492.38 L264.54,492.72 L263.57,492.64 L262.63,492.1 L261.91,491.13 L261.57,489.88 L261.7,488.56 L262.29,487.39 L263.24,486.6 L264.34,486.34 L265.33,486.68 L265.95,487.54 L266,488.76 L265.35,490.06 L264.02,491.16 L262.17,491.79 L260.06,491.77 L258.02,491.06 L256.36,489.76 L255.33,488.11 L255.04,486.41 L255.46,485.01 L256.41,484.2 L257.59,484.12 L258.66,484.81 L259.31,486.11 L259.32,487.75 L258.62,489.38 L257.3,490.65 L255.59,491.29 L253.82,491.16 L252.34,490.28 L251.44,488.83 L251.31,487.08 L251.98,485.36 L253.34,483.99 L255.14,483.19 L257.08,483.06 L258.84,483.54 L260.16,484.47 L260.9,485.58 L261.04,486.61 L260.66,487.29 L259.98,487.47 L259.23,487.08 L258.65,486.18 L258.4,484.92 L258.6,483.52 L259.22,482.2 L260.18,481.15 L261.31,480.5 L262.43,480.31 L263.36,480.53 L263.94,481.07 L264.12,481.76 L263.87,482.45 L263.27,482.98 L262.43,483.23 L261.52,483.16 L260.7,482.76 L260.12,482.11 L259.9,481.32 L260.09,480.55 L260.66,479.96 L261.56,479.68 L262.64,479.82 L263.73,480.38 L264.67,481.34 L265.31,482.56"/>
<path d="M288.25,482.69 L288.68,483.68 L288.49,484.43 L287.8,484.72 L286.82,484.37 L285.83,483.34 L285.13,481.71 L284.94,479.7 L285.37,477.6 L286.4,475.75 L287.85,474.43 L289.45,473.82 L290.86,473.95 L291.78,474.7 L291.97,475.83 L291.35,477 L290.01,477.86 L288.17,478.14 L286.15,477.68 L284.33,476.51 L283.02,474.77 L282.45,472.75 L282.67,470.81 L283.6,469.26 L285,468.37 L286.56,468.24 L287.96,468.83 L288.91,469.98 L289.26,471.39 L288.97,472.77 L288.16,473.82 L287.04,474.35 L285.88,474.28 L284.95,473.67 L284.43,472.66 L284.45,471.5 L284.99,470.42 L285.94,469.65 L287.09,469.32 L288.24,469.48 L289.15,470.07 L289.67,470.98 L289.7,472 L289.22,472.97 L288.33,473.69 L287.14,474.07 L285.83,474.04 L284.56,473.63 L283.49,472.93 L282.69,472.07 L282.22,471.21 L282.04,470.5 L282.07,470.07 L282.18,470 L282.23,470.3 L282.06,470.92 L281.58,471.75 L280.73,472.64 L279.52,473.41 L278.06,473.9 L276.5,474 L275.03,473.67 L273.87,472.95 L273.19,471.99 L273.08,470.98 L273.56,470.16 L274.5,469.75 L275.72,469.91 L276.95,470.68 L277.92,472.01 L278.41,473.72 L278.3,475.54 L277.6,477.17 L276.43,478.36 L275.05,478.91 L273.76,478.78 L272.85,478.07 L272.57,477.01 L272.99,475.92 L274.08,475.12 L275.62,474.89 L277.31,475.41 L278.8,476.68 L279.77,478.55 L279.98,480.73 L279.38,482.89 L278.03,484.67 L276.19,485.8 L274.18,486.13 L272.36,485.68 L271.03,484.63 L270.39,483.25 L270.49,481.88 L271.25,480.82 L272.42,480.29 L273.73,480.39 L274.87,481.08 L275.62,482.17 L275.83,483.43 L275.5,484.55 L274.75,485.3 L273.78,485.52 L272.85,485.13 L272.19,484.21 L271.99,482.91 L272.34,481.43 L273.23,480 L274.56,478.82 L276.16,478.03 L277.83,477.66 L279.37,477.69 L280.63,478.02 L281.51,478.48 L281.99,478.93 L282.11,479.2 L281.98,479.18 L281.73,478.82 L281.51,478.13 L281.47,477.17 L281.68,476.06 L282.21,474.96 L283.02,474.03 L284.03,473.4 L285.1,473.17 L286.07,473.37 L286.76,473.94 L287.05,474.77 L286.86,475.68 L286.2,476.47 L285.16,476.94 L283.94,476.95 L282.75,476.45 L281.84,475.49 L281.41,474.21 L281.57,472.84 L282.34,471.65 L283.59,470.87 L285.11,470.67 L286.61,471.09 L287.8,472.07 L288.47,473.39 L288.49,474.75 L287.89,475.85 L286.83,476.41 L285.58,476.24 L284.48,475.32 L283.84,473.77 L283.88,471.85 L284.69,469.9 L286.18,468.27 L288.13,467.25 L290.23,466.99 L292.09,467.5 L293.4,468.62 L293.94,470.07"/>
<path d="M298.81,463.72 L298.56,465.3 L297.76,466.74 L296.53,467.77 L295.1,468.24 L293.75,468.08 L292.77,467.38 L292.37,466.35 L292.67,465.28 L293.64,464.48 L295.08,464.23 L296.73,464.69 L298.23,465.9 L299.26,467.73 L299.59,469.9 L299.11,472.07 L297.91,473.89 L296.18,475.08 L294.26,475.47 L292.5,475.06 L291.22,474 L290.62,472.58 L290.77,471.13 L291.57,469.98 L292.79,469.37 L294.12,469.42 L295.24,470.09 L295.88,471.2 L295.88,472.47 L295.22,473.59 L294.03,474.3 L292.52,474.38 L290.99,473.78 L289.7,472.55 L288.87,470.86 L288.61,468.95 L288.94,467.07 L289.74,465.45 L290.83,464.25 L291.98,463.51 L293,463.19 L293.7,463.18 L294.01,463.31 L293.92,463.38 L293.49,463.25 L292.85,462.8 L292.17,461.99 L291.6,460.84 L291.28,459.46 L291.29,457.98 L291.65,456.55 L292.34,455.34 L293.24,454.47 L294.22,454.02 L295.11,453.99 L295.77,454.35 L296.07,454.97 L295.95,455.69 L295.41,456.34 L294.55,456.74 L293.52,456.77 L292.51,456.4 L291.74,455.66 L291.37,454.67 L291.5,453.64 L292.15,452.79 L293.21,452.33 L294.49,452.42 L295.74,453.1 L296.7,454.3 L297.16,455.85 L297.01,457.46 L296.27,458.86 L295.08,459.75 L293.7,459.98 L292.44,459.48 L291.61,458.37 L291.45,456.87 L292.04,455.31 L293.36,454.01 L295.18,453.28 L297.22,453.27 L299.1,454.02 L300.5,455.36 L301.19,457.05 L301.09,458.73 L300.28,460.06 L298.98,460.78 L297.51,460.76 L296.21,460.02 L295.38,458.75 L295.21,457.22 L295.73,455.77 L296.84,454.72 L298.3,454.3 L299.81,454.61 L301.07,455.59 L301.83,457.09 L301.97,458.83 L301.48,460.55 L300.46,461.98 L299.14,462.97 L297.77,463.43 L296.59,463.44 L295.79,463.13 L295.48,462.7 L295.66,462.38 L296.24,462.35 L297.07,462.72 L297.95,463.54 L298.72,464.76 L299.21,466.27 L299.34,467.9"/>
<path d="M268.53,466.4 L268.55,467.45 L267.94,468.31 L266.83,468.74 L265.43,468.55 L264.05,467.72 L262.97,466.32 L262.42,464.55 L262.54,462.73 L263.29,461.17 L264.52,460.16 L265.93,459.87 L267.22,460.33 L268.05,461.43 L268.21,462.9 L267.61,464.41 L266.33,465.61 L264.59,466.23 L262.71,466.11 L261.05,465.26 L259.92,463.83 L259.54,462.11 L259.96,460.45 L261.08,459.17 L262.67,458.52 L264.39,458.62 L265.92,459.43 L266.98,460.77 L267.4,462.36 L267.14,463.89 L266.32,465.08 L265.14,465.74 L263.88,465.78 L262.79,465.26 L262.1,464.34 L261.9,463.25 L262.19,462.24 L262.86,461.53 L263.72,461.25 L264.57,461.46 L265.18,462.11 L265.4,463.07 L265.14,464.15 L264.41,465.17 L263.28,465.96 L261.9,466.4 L260.44,466.44 L259.07,466.1 L257.94,465.48 L257.15,464.7 L256.74,463.93 L256.68,463.31 L256.87,462.97 L257.2,462.98 L257.51,463.37 L257.65,464.08 L257.51,464.99 L257.02,465.95 L256.21,466.78 L255.14,467.33 L253.98,467.46 L252.91,467.15 L252.13,466.44 L251.81,465.45 L252.04,464.41 L252.81,463.52 L254.01,463.02 L255.44,463.07 L256.83,463.7 L257.92,464.86 L258.48,466.38 L258.4,467.98 L257.67,469.37 L256.44,470.28 L254.96,470.53 L253.53,470.09 L252.48,469.04 L252.02,467.63 L252.27,466.16 L253.18,464.98 L254.55,464.36 L256.09,464.47 L257.45,465.34 L258.31,466.8 L258.46,468.58"/>
<path d="M268,438 C278,446 290,446 292,452 M244,446 C240,452 238,452 238,458 M250,470 C256,476 262,480 266,484 M272,480 C276,478 280,476 284,474 M288,468 C292,466 294,462 294,458"/>
</g>
<circle cx="652.1" cy="451.9" r="11.4" fill="#8199cc"/>
<text x="549.3" y="519.2" font-size="15.4" font-weight="normal" font-style="normal" fill="#1e1e1e" text-anchor="start">LncRNA</text>
<text x="549.3" y="535" font-size="15.4" font-weight="normal" font-style="normal" fill="#1e1e1e" text-anchor="start">60967.1</text>
<line x1="614.3" y1="507.9" x2="614.3" y2="536.6" stroke="#e8202a" stroke-width="1.4"/>
<polygon fill="#e8202a" points="614.3,502.9 611.3,508.4 617.3,508.4"/>
</svg></body></html>
